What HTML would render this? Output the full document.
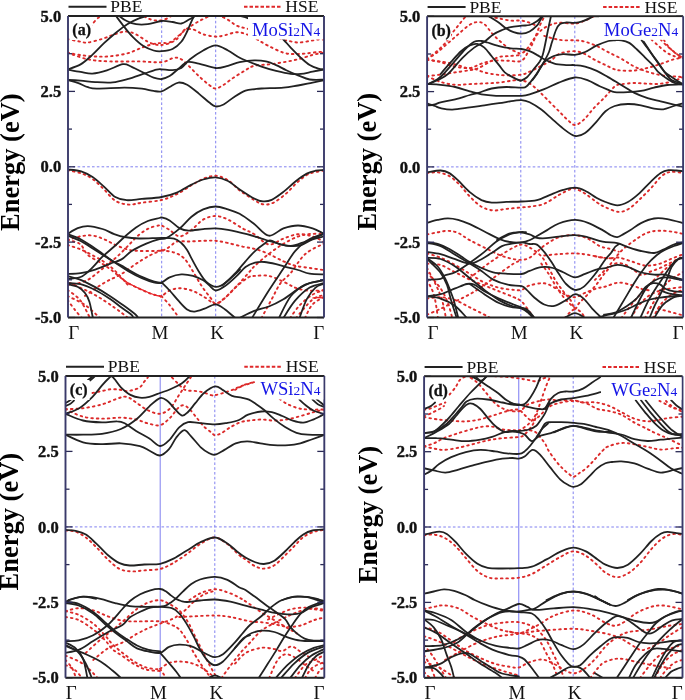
<!DOCTYPE html>
<html><head><meta charset="utf-8"><style>
html,body{margin:0;padding:0;background:#fff;}
body{width:685px;height:700px;overflow:hidden;}
svg{display:block;will-change:transform;}
text{font-family:"Liberation Serif",serif;}
.yl{font-size:16.5px;font-weight:bold;fill:#111;stroke:#111;stroke-width:0.4px;}
.xl{font-size:19px;fill:#111;}
.lg{font-size:17.5px;fill:#111;}
.pl{font-size:16px;font-weight:bold;fill:#111;stroke:#111;stroke-width:0.3px;}
.nm{font-size:18.6px;fill:#1414e6;}
.sm{font-size:13.5px;}
.yt{font-size:26.5px;font-weight:bold;fill:#000;}
</style></head><body>
<svg width="685" height="700" viewBox="0 0 685 700">
<clipPath id="clipa"><rect x="68" y="16" width="256" height="301.5"/></clipPath>
<g stroke="#8080f0" stroke-width="1" stroke-dasharray="2.6,2.2" fill="none">
<line x1="161.7" y1="16" x2="161.7" y2="317.5"/>
<line x1="215.7" y1="16" x2="215.7" y2="317.5"/>
<line x1="68" y1="166.8" x2="324" y2="166.8"/>
</g>
<g clip-path="url(#clipa)" fill="none" stroke-linecap="round" stroke-linejoin="round">
<path d="M67.5,52.7 C69.7,53.1 76.0,54.5 80.6,55.1 C85.2,55.7 90.1,56.3 95.0,56.5 C99.9,56.7 104.4,56.8 109.8,56.3 C115.2,55.8 121.9,54.8 127.3,53.4 C132.7,52.0 137.5,49.2 141.9,47.6 C146.3,46.0 150.3,44.7 153.6,43.9 C156.9,43.1 158.9,43.2 161.6,43.0 C164.3,42.8 166.8,43.7 169.6,42.5 C172.4,41.3 175.5,38.2 178.4,35.9 C181.3,33.6 183.7,31.0 187.1,28.6 C190.5,26.2 195.2,23.4 198.8,21.3 C202.5,19.2 206.6,17.6 209.0,16.2 C211.4,14.8 212.3,13.5 213.0,13.0" stroke="#dc2a2a" stroke-width="1.9" stroke-dasharray="1.6,3.9" stroke-linecap="round"/>
<path d="M67.5,39.0 C69.7,39.5 77.2,41.1 80.6,41.7 C84.0,42.3 84.2,43.0 87.9,42.5 C91.6,42.0 98.1,40.1 102.5,38.8 C106.9,37.4 110.3,35.6 114.2,34.4 C118.1,33.2 122.3,31.5 125.9,31.5 C129.5,31.5 132.3,32.7 136.0,34.4 C139.7,36.1 144.4,40.0 147.8,41.7 C151.2,43.4 154.2,44.2 156.5,44.7 C158.8,45.2 159.4,45.2 161.6,45.0 C163.8,44.8 167.0,44.2 169.6,43.2 C172.2,42.2 174.5,41.2 176.9,39.0 C179.3,36.8 182.0,31.8 184.2,30.1 C186.4,28.4 188.0,28.9 190.0,29.0 C192.0,29.1 193.8,29.6 196.0,30.5 C198.2,31.4 199.9,33.3 203.2,34.3 C206.5,35.3 212.0,36.5 215.6,36.6 C219.2,36.8 221.5,35.9 225.0,35.2 C228.5,34.5 233.0,32.3 236.7,32.2 C240.3,32.1 243.5,33.2 246.9,34.4 C250.3,35.6 253.5,37.5 257.1,39.5 C260.8,41.5 264.4,43.9 268.8,46.1 C273.2,48.3 279.0,51.4 283.4,52.7 C287.8,54.0 291.2,54.0 295.1,54.1 C299.0,54.2 302.9,53.8 306.8,53.4 C310.7,53.0 315.6,52.2 318.4,52.0 C321.2,51.8 322.6,52.0 323.5,52.0" stroke="#dc2a2a" stroke-width="1.9" stroke-dasharray="1.6,3.9" stroke-linecap="round"/>
<path d="M67.5,52.7 C70.9,53.8 80.9,57.8 87.9,59.3 C95.0,60.8 101.3,61.0 109.8,61.4 C118.3,61.8 130.4,61.3 139.0,61.4 C147.6,61.5 155.8,62.8 161.6,62.2 C167.4,61.6 170.7,58.3 174.0,57.8 C177.3,57.3 178.9,58.0 181.3,59.3 C183.7,60.6 185.7,63.0 188.6,65.8 C191.5,68.6 195.4,72.9 198.8,76.1 C202.2,79.3 206.2,82.7 209.0,84.8 C211.8,86.9 213.2,88.5 215.6,88.5 C218.0,88.5 220.6,86.6 223.6,84.8 C226.6,83.0 230.2,79.9 233.8,77.5 C237.5,75.1 242.1,72.2 245.5,70.2 C248.9,68.2 250.3,66.8 254.2,65.8 C258.1,64.8 263.9,65.0 268.8,64.4 C273.7,63.8 278.5,63.1 283.4,62.2 C288.3,61.4 293.1,60.5 298.0,59.3 C302.9,58.1 308.4,56.0 312.6,54.9 C316.9,53.8 321.7,53.1 323.5,52.7" stroke="#dc2a2a" stroke-width="1.9" stroke-dasharray="1.6,3.9" stroke-linecap="round"/>
<path d="M140.0,13.0 C141.3,13.9 145.1,17.1 147.8,18.4 C150.6,19.7 153.8,20.4 156.5,20.6 C159.2,20.8 161.4,20.5 163.8,19.8 C166.2,19.1 169.1,17.3 171.0,16.2 C172.9,15.1 174.3,13.5 175.0,13.0" stroke="#dc2a2a" stroke-width="1.9" stroke-dasharray="1.6,3.9" stroke-linecap="round"/>
<path d="M90.5,26.5 C90.8,26.1 91.3,25.4 92.3,24.2 C93.3,23.0 95.2,20.6 96.7,19.1 C98.2,17.7 100.0,16.5 101.0,15.5 C102.0,14.5 102.7,13.4 103.0,13.0" stroke="#dc2a2a" stroke-width="1.9" stroke-dasharray="1.6,3.9" stroke-linecap="round"/>
<path d="M213.0,13.0 C214.0,13.4 216.7,14.4 219.2,15.5 C221.7,16.6 225.1,18.1 228.0,19.8 C230.9,21.5 233.7,24.2 236.8,25.7 C240.0,27.2 243.0,27.6 246.9,28.6 C250.8,29.7 255.3,30.6 260.0,32.0 C264.7,33.4 270.6,35.6 275.0,37.0 C279.4,38.4 282.5,39.4 286.3,40.3 C290.1,41.2 294.1,42.4 298.0,42.5 C301.9,42.6 306.3,41.5 309.7,41.0 C313.1,40.5 316.1,39.8 318.4,39.5 C320.7,39.2 322.6,39.5 323.5,39.5" stroke="#dc2a2a" stroke-width="1.9" stroke-dasharray="1.6,3.9" stroke-linecap="round"/>
<path d="M67.5,170.4 C69.8,170.9 77.0,171.9 81.2,173.3 C85.4,174.7 88.8,176.3 92.6,179.0 C96.4,181.7 100.2,185.8 104.0,189.4 C107.8,193.0 111.2,198.3 115.3,200.8 C119.4,203.3 124.2,204.3 128.6,204.6 C133.0,204.9 136.4,203.5 141.9,202.7 C147.4,201.9 155.8,201.4 161.6,200.0 C167.4,198.6 171.9,196.5 176.9,194.1 C181.9,191.7 187.1,187.9 191.5,185.3 C195.9,182.8 199.2,180.4 203.2,178.8 C207.2,177.2 211.5,175.6 215.6,175.8 C219.7,176.0 224.0,177.8 228.0,180.2 C232.0,182.6 235.3,187.1 239.7,190.4 C244.1,193.7 250.3,197.7 254.2,200.0 C258.1,202.3 259.8,203.8 263.0,204.3 C266.2,204.8 269.3,204.6 273.2,202.8 C277.1,201.0 282.2,196.9 286.3,193.4 C290.4,189.9 294.1,185.0 298.0,181.7 C301.9,178.4 305.4,175.4 309.7,173.6 C313.9,171.8 321.2,171.2 323.5,170.7" stroke="#dc2a2a" stroke-width="1.9" stroke-dasharray="1.6,3.9" stroke-linecap="round"/>
<path d="M67.5,240.0 C69.7,239.4 76.5,237.1 80.6,236.3 C84.7,235.6 88.4,235.0 92.3,235.5 C96.2,236.0 100.1,237.6 104.0,239.2 C107.9,240.8 111.7,243.3 115.6,245.0 C119.5,246.7 123.4,248.4 127.3,249.4 C131.2,250.4 133.3,250.7 139.0,250.9 C144.7,251.1 156.5,251.2 161.6,250.5 C166.7,249.8 167.0,248.2 169.6,246.7 C172.2,245.2 173.7,242.4 176.9,241.5 C180.1,240.6 184.2,241.6 188.6,241.5 C193.0,241.4 198.7,240.9 203.2,240.8 C207.7,240.7 211.5,240.4 215.6,240.8 C219.7,241.2 223.5,242.0 228.0,243.0 C232.5,244.0 238.1,245.6 242.6,246.6 C247.1,247.6 250.6,247.8 255.0,249.0 C259.4,250.2 264.1,251.9 268.8,254.0 C273.5,256.1 279.0,259.4 283.4,261.3 C287.8,263.2 290.7,264.6 295.1,265.7 C299.5,266.8 305.0,267.3 309.7,268.0 C314.4,268.7 321.2,269.7 323.5,270.0" stroke="#dc2a2a" stroke-width="1.9" stroke-dasharray="1.6,3.9" stroke-linecap="round"/>
<path d="M67.5,240.0 C69.6,240.7 76.6,241.5 80.0,244.0 C83.4,246.5 84.2,251.7 87.9,255.0 C91.7,258.3 98.4,261.1 102.5,263.8 C106.6,266.5 109.5,268.7 112.7,271.1 C115.9,273.5 119.1,276.5 121.5,278.4 C123.9,280.3 124.4,281.0 127.3,282.7 C130.2,284.4 135.1,286.8 139.0,288.6 C142.9,290.4 147.3,292.5 150.7,293.7 C154.1,294.9 157.6,295.5 159.4,295.9 C161.2,296.3 159.9,297.2 161.6,296.3 C163.3,295.4 166.6,291.8 169.6,290.5 C172.6,289.2 176.2,288.3 179.8,288.3 C183.5,288.3 187.6,289.2 191.5,290.5 C195.4,291.8 199.2,294.1 203.2,296.3 C207.2,298.5 211.9,303.4 215.6,303.6 C219.2,303.9 221.6,300.7 225.1,297.8 C228.6,294.9 232.9,289.5 236.8,286.1 C240.7,282.7 245.4,279.0 248.4,277.3 C251.4,275.6 251.6,276.1 255.0,275.9 C258.4,275.7 264.1,274.9 268.8,275.9 C273.5,276.9 279.0,279.8 283.4,281.7 C287.8,283.6 291.2,286.1 295.1,287.6 C299.0,289.1 302.1,290.0 306.8,290.5 C311.5,291.0 320.7,290.5 323.5,290.5" stroke="#dc2a2a" stroke-width="1.9" stroke-dasharray="1.6,3.9" stroke-linecap="round"/>
<path d="M67.5,245.0 C69.7,245.7 76.0,247.5 80.6,249.4 C85.2,251.3 91.3,254.6 95.2,256.7 C99.1,258.8 101.2,259.9 104.0,261.8 C106.8,263.7 109.3,265.6 112.0,268.0 C114.7,270.4 117.3,273.2 120.0,276.0 C122.7,278.8 126.7,283.5 128.0,285.0" stroke="#dc2a2a" stroke-width="1.9" stroke-dasharray="1.6,3.9" stroke-linecap="round"/>
<path d="M67.5,285.0 C68.7,284.9 71.4,285.1 74.8,284.2 C78.2,283.3 83.8,282.0 87.9,279.8 C92.0,277.6 96.2,273.7 99.6,271.1 C102.9,268.5 105.1,266.4 108.0,264.0 C110.9,261.6 113.6,259.9 117.1,256.7 C120.6,253.5 125.2,248.7 128.8,245.0 C132.5,241.3 135.6,237.6 139.0,234.8 C142.4,232.0 145.8,229.8 149.2,228.2 C152.6,226.6 157.3,225.8 159.4,225.3 C161.5,224.9 159.9,224.7 161.6,225.5 C163.3,226.3 166.6,228.1 169.6,229.9 C172.6,231.7 176.2,236.4 179.8,236.4 C183.5,236.4 187.6,232.7 191.5,229.9 C195.4,227.1 199.2,221.9 203.2,219.6 C207.2,217.3 211.5,216.0 215.6,216.0 C219.7,216.0 223.5,217.5 228.0,219.6 C232.5,221.7 238.2,226.0 242.6,228.4 C247.0,230.8 249.8,231.5 254.2,234.2 C258.6,236.9 263.9,243.8 268.8,244.5 C273.7,245.2 278.5,240.3 283.4,238.6 C288.3,236.9 293.1,234.6 298.0,234.2 C302.9,233.8 308.4,235.2 312.6,236.4 C316.9,237.6 321.7,240.7 323.5,241.5" stroke="#dc2a2a" stroke-width="1.9" stroke-dasharray="1.6,3.9" stroke-linecap="round"/>
<path d="M85.0,295.9 C86.7,294.7 91.5,291.0 95.2,288.6 C98.9,286.2 102.5,283.7 106.9,281.3 C111.3,278.9 116.7,276.9 121.5,274.0 C126.3,271.1 131.1,267.0 136.0,263.8 C140.9,260.6 146.4,257.2 150.7,255.0 C155.0,252.8 159.8,251.1 161.6,250.3" stroke="#dc2a2a" stroke-width="1.9" stroke-dasharray="1.6,3.9" stroke-linecap="round"/>
<path d="M161.6,250.3 C163.7,250.7 170.2,251.2 174.0,252.5 C177.8,253.8 181.0,255.2 184.2,258.4 C187.4,261.6 190.1,266.9 193.0,271.5 C195.9,276.1 198.8,281.7 201.7,286.1 C204.6,290.5 208.2,294.9 210.5,297.8 C212.8,300.7 213.2,303.6 215.6,303.6 C218.0,303.6 221.6,300.7 225.1,297.8 C228.6,294.9 232.9,290.2 236.8,286.1 C240.7,282.0 245.4,276.4 248.4,273.0 C251.4,269.6 251.6,268.9 255.0,265.7 C258.4,262.5 264.1,257.6 268.8,254.0 C273.5,250.3 278.5,246.7 283.4,243.8 C288.3,240.9 293.6,238.1 298.0,236.5 C302.4,234.9 305.8,234.4 310.0,234.0 C314.2,233.6 321.2,234.0 323.5,234.0" stroke="#dc2a2a" stroke-width="1.9" stroke-dasharray="1.6,3.9" stroke-linecap="round"/>
<path d="M161.6,296.3 C162.9,297.8 166.8,301.7 169.6,305.1 C172.4,308.5 176.8,314.7 178.4,316.8 C180.0,318.9 178.9,317.8 179.0,318.0" stroke="#dc2a2a" stroke-width="1.9" stroke-dasharray="1.6,3.9" stroke-linecap="round"/>
<path d="M261.5,318.0 C263.2,314.9 268.5,305.0 271.7,299.2 C274.9,293.4 277.3,287.6 280.5,283.2 C283.7,278.8 286.6,277.9 290.7,273.0 C294.8,268.1 299.8,258.9 305.3,254.0 C310.8,249.1 320.5,245.5 323.5,243.8" stroke="#dc2a2a" stroke-width="1.9" stroke-dasharray="1.6,3.9" stroke-linecap="round"/>
<path d="M67.5,290.0 C69.6,291.7 76.2,295.3 80.0,300.0 C83.8,304.7 88.3,315.0 90.0,318.0" stroke="#dc2a2a" stroke-width="1.9" stroke-dasharray="1.6,3.9" stroke-linecap="round"/>
<path d="M67.5,296.0 C70.4,297.5 79.6,301.3 85.0,305.0 C90.4,308.7 97.5,315.8 100.0,318.0" stroke="#dc2a2a" stroke-width="1.9" stroke-dasharray="1.6,3.9" stroke-linecap="round"/>
<path d="M67.5,300.0 C68.8,301.7 72.6,307.0 75.0,310.0 C77.4,313.0 80.8,316.7 82.0,318.0" stroke="#dc2a2a" stroke-width="1.9" stroke-dasharray="1.6,3.9" stroke-linecap="round"/>
<path d="M70.0,283.0 C74.2,285.0 87.5,290.8 95.0,295.0 C102.5,299.2 109.5,304.2 115.0,308.0 C120.5,311.8 125.8,316.3 128.0,318.0" stroke="#dc2a2a" stroke-width="1.9" stroke-dasharray="1.6,3.9" stroke-linecap="round"/>
<path d="M290.0,318.0 C291.7,315.8 296.3,308.8 300.0,305.0 C303.7,301.2 308.1,297.5 312.0,295.0 C315.9,292.5 321.6,290.8 323.5,290.0" stroke="#dc2a2a" stroke-width="1.9" stroke-dasharray="1.6,3.9" stroke-linecap="round"/>
<path d="M305.0,318.0 C306.2,315.8 308.9,308.5 312.0,305.0 C315.1,301.5 321.6,298.3 323.5,297.0" stroke="#dc2a2a" stroke-width="1.9" stroke-dasharray="1.6,3.9" stroke-linecap="round"/>
<path d="M296.0,318.0 C298.7,315.0 307.4,303.8 312.0,300.0 C316.6,296.2 321.6,295.8 323.5,295.0" stroke="#dc2a2a" stroke-width="1.9" stroke-dasharray="1.6,3.9" stroke-linecap="round"/>
<path d="M121.5,278.4 C122.5,279.1 125.4,281.3 127.3,282.5 C129.2,283.7 131.1,284.5 133.0,285.5 C134.9,286.5 137.0,287.5 139.0,288.4 C141.0,289.3 143.1,290.1 145.0,291.0 C146.9,291.9 149.0,292.8 150.7,293.5 C152.4,294.2 153.6,294.6 155.0,295.0 C156.4,295.4 158.3,295.8 159.4,296.0 C160.5,296.2 161.2,296.0 161.6,296.0" stroke="#e8262a" stroke-width="1.3"/>
<path d="M313.0,298.0 C313.8,297.9 316.3,297.5 318.0,297.5 C319.7,297.5 322.2,297.9 323.0,298.0" stroke="#e8262a" stroke-width="1.3"/>
<path d="M67.5,69.5 C69.7,68.7 76.5,66.8 80.6,64.4 C84.7,62.0 88.4,58.4 92.3,54.9 C96.2,51.4 100.1,46.9 104.0,43.2 C107.9,39.6 111.7,36.2 115.6,33.0 C119.5,29.8 123.4,26.6 127.3,24.2 C131.2,21.8 135.6,19.8 139.0,18.4 C142.4,16.9 145.6,16.4 147.8,15.5 C150.0,14.6 151.3,13.4 152.0,13.0" stroke="#222" stroke-width="1.8"/>
<path d="M113.0,12.0 C113.4,12.6 113.7,13.0 115.6,15.5 C117.5,18.0 121.5,23.5 124.4,27.1 C127.3,30.8 130.0,34.2 133.2,37.4 C136.4,40.6 140.0,43.9 143.4,46.1 C146.8,48.3 150.6,49.6 153.6,50.5 C156.6,51.4 158.4,51.5 161.6,51.2 C164.8,51.0 169.2,50.6 172.5,49.0 C175.8,47.4 178.9,44.6 181.3,41.7 C183.7,38.8 185.4,34.9 187.1,31.5 C188.8,28.1 190.3,24.0 191.5,21.3 C192.7,18.6 193.7,17.1 194.4,15.5 C195.2,13.9 195.7,12.6 196.0,12.0" stroke="#222" stroke-width="1.8"/>
<path d="M116.0,12.0 C116.4,12.6 116.7,13.9 118.6,15.5 C120.5,17.1 124.4,19.9 127.3,21.3 C130.2,22.8 132.6,23.7 136.0,24.2 C139.4,24.7 143.5,24.7 147.8,24.2 C152.1,23.7 157.5,21.4 161.6,21.0 C165.7,20.6 169.2,21.6 172.5,22.0 C175.8,22.4 178.6,23.9 181.3,23.5 C184.0,23.1 186.4,21.0 188.6,19.8 C190.8,18.6 193.0,17.3 194.4,16.2 C195.8,15.1 196.6,13.5 197.0,13.0" stroke="#222" stroke-width="1.8"/>
<path d="M67.5,69.5 C69.7,69.9 76.5,71.2 80.6,71.9 C84.7,72.6 87.9,73.8 92.3,73.6 C96.7,73.3 101.8,72.0 106.9,70.4 C112.0,68.8 118.8,64.8 122.9,64.2 C127.0,63.6 128.0,65.3 131.7,66.8 C135.3,68.3 141.2,71.6 144.8,73.4 C148.5,75.2 150.8,76.8 153.6,77.7 C156.4,78.6 158.9,79.3 161.6,79.0 C164.3,78.7 166.8,77.8 169.6,76.1 C172.4,74.4 175.5,71.1 178.4,68.8 C181.3,66.5 183.7,62.9 187.1,62.0 C190.5,61.1 194.1,62.6 198.8,63.6 C203.6,64.6 210.7,67.6 215.6,68.0 C220.5,68.4 224.0,66.8 228.0,65.8 C232.0,64.8 235.2,63.1 239.6,62.2 C244.0,61.3 249.8,60.5 254.2,60.4 C258.6,60.3 262.2,60.6 265.9,61.4 C269.5,62.2 272.7,63.6 276.1,65.1 C279.5,66.6 282.7,68.5 286.3,70.2 C289.9,71.9 294.1,73.8 298.0,75.3 C301.9,76.8 305.4,78.8 309.7,79.5 C313.9,80.2 321.2,79.7 323.5,79.7" stroke="#222" stroke-width="1.8"/>
<path d="M67.5,80.0 C69.7,80.1 76.0,80.4 80.6,80.7 C85.2,81.0 89.8,81.8 95.2,82.1 C100.6,82.4 107.4,82.9 112.7,82.4 C118.0,81.9 121.9,80.7 127.3,79.2 C132.7,77.7 139.9,75.0 144.8,73.4 C149.7,71.8 153.7,70.4 156.5,69.7 C159.3,69.0 158.9,69.2 161.6,69.3 C164.3,69.4 169.2,70.4 172.5,70.2 C175.8,70.0 178.4,69.8 181.3,68.0 C184.2,66.2 186.3,62.2 190.0,59.3 C193.7,56.4 198.9,52.8 203.2,50.5 C207.5,48.2 211.5,45.4 215.6,45.4 C219.7,45.4 224.0,48.4 228.0,50.5 C232.0,52.6 236.3,56.0 239.7,57.8 C243.1,59.6 244.8,60.0 248.4,61.5 C252.0,63.0 256.9,65.0 261.5,66.6 C266.1,68.2 271.2,69.7 276.1,70.9 C281.0,72.1 286.6,73.4 290.7,73.9 C294.8,74.4 297.2,74.3 300.9,73.9 C304.5,73.5 308.8,72.4 312.6,71.7 C316.4,71.0 321.7,69.9 323.5,69.5" stroke="#222" stroke-width="1.8"/>
<path d="M67.5,80.0 C69.2,80.5 74.3,81.6 77.7,82.8 C81.1,84.0 84.7,86.2 87.9,87.2 C91.1,88.2 90.6,88.6 96.7,88.7 C102.8,88.8 116.9,87.7 124.4,87.7 C131.9,87.7 137.0,88.2 141.9,88.7 C146.8,89.2 150.3,90.5 153.6,90.9 C156.9,91.4 158.9,92.1 161.6,91.4 C164.3,90.8 166.8,88.5 169.6,87.0 C172.4,85.5 175.5,83.0 178.4,82.6 C181.3,82.2 183.7,83.0 187.1,84.8 C190.5,86.6 195.2,90.7 198.8,93.6 C202.5,96.5 206.2,100.2 209.0,102.3 C211.8,104.4 213.2,106.0 215.6,106.4 C218.0,106.8 220.6,106.0 223.6,104.5 C226.6,103.0 230.2,99.5 233.8,97.2 C237.5,94.9 242.0,92.0 245.5,90.7 C249.0,89.4 252.3,89.6 255.0,89.2 C257.7,88.8 256.8,88.8 261.5,88.5 C266.2,88.2 277.3,88.2 283.4,87.7 C289.5,87.2 293.1,86.3 298.0,85.5 C302.9,84.7 308.4,83.4 312.6,82.6 C316.9,81.8 321.7,80.8 323.5,80.4" stroke="#222" stroke-width="1.8"/>
<path d="M228.0,13.0 C229.7,13.4 234.6,14.6 238.0,15.5 C241.4,16.4 244.4,16.8 248.4,18.4 C252.4,20.0 257.6,22.7 262.0,25.0 C266.4,27.3 271.4,29.6 275.0,32.0 C278.6,34.4 280.8,36.9 283.4,39.5 C286.0,42.1 287.8,44.6 290.7,47.6 C293.6,50.6 297.7,54.9 300.9,57.8 C304.1,60.7 306.8,63.3 309.7,65.1 C312.6,66.9 316.1,68.0 318.4,68.7 C320.7,69.4 322.6,69.4 323.5,69.5" stroke="#222" stroke-width="1.8"/>
<path d="M67.5,169.5 C69.8,169.8 77.0,170.1 81.2,171.4 C85.4,172.7 88.8,174.6 92.6,177.1 C96.4,179.6 100.2,183.3 104.0,186.6 C107.8,189.9 111.5,194.7 115.3,197.0 C119.1,199.3 122.3,199.9 126.7,200.2 C131.1,200.5 136.1,199.4 141.9,198.9 C147.7,198.4 155.8,198.1 161.6,197.0 C167.4,195.9 171.9,194.7 176.9,192.6 C181.9,190.5 187.1,186.8 191.5,184.6 C195.9,182.4 199.2,180.7 203.2,179.5 C207.2,178.3 211.5,177.1 215.6,177.3 C219.7,177.6 224.0,179.0 228.0,181.0 C232.0,183.0 235.3,186.5 239.7,189.4 C244.1,192.3 250.3,196.5 254.2,198.5 C258.1,200.5 260.1,201.2 263.0,201.4 C265.9,201.6 268.3,201.5 271.7,199.9 C275.1,198.3 279.5,194.9 283.4,191.9 C287.3,188.9 291.2,184.8 295.1,181.7 C299.0,178.6 303.4,175.4 306.8,173.6 C310.2,171.8 312.7,171.3 315.5,170.7 C318.3,170.1 322.2,170.1 323.5,170.0" stroke="#222" stroke-width="1.8"/>
<path d="M67.5,234.0 C69.2,233.0 74.3,229.5 77.7,228.2 C81.1,226.9 83.8,226.0 87.9,226.1 C92.0,226.2 98.1,227.7 102.5,229.0 C106.9,230.3 110.5,232.8 114.2,234.1 C117.9,235.4 120.3,236.3 124.4,237.0 C128.5,237.7 132.8,238.3 139.0,238.5 C145.2,238.7 155.8,237.9 161.6,237.9 C167.4,237.9 170.7,237.8 174.0,238.6 C177.3,239.4 179.1,241.1 181.3,243.0 C183.5,244.9 185.4,247.4 187.1,250.0 C188.8,252.6 189.6,254.8 191.5,258.4 C193.4,262.0 196.4,267.6 198.8,271.5 C201.2,275.4 203.3,279.1 206.1,281.7 C208.9,284.2 212.4,286.6 215.6,286.8 C218.8,287.1 221.6,285.8 225.1,283.2 C228.6,280.6 233.4,275.1 236.8,271.5 C240.2,267.9 242.5,264.7 245.5,261.3 C248.5,257.9 251.8,254.0 255.0,251.1 C258.1,248.2 261.9,245.6 264.4,243.8 C266.9,242.0 267.3,240.4 270.0,240.5 C272.7,240.6 277.1,243.6 280.5,244.5 C283.9,245.4 287.3,245.9 290.7,246.0 C294.1,246.1 297.2,246.3 300.9,245.2 C304.5,244.1 308.8,240.8 312.6,239.4 C316.4,238.0 321.7,237.0 323.5,236.5" stroke="#222" stroke-width="1.8"/>
<path d="M67.5,234.0 C69.7,234.9 76.5,237.1 80.6,239.2 C84.7,241.3 88.6,244.1 92.3,246.5 C96.0,248.9 99.1,251.4 102.5,253.8 C105.9,256.2 109.5,259.2 112.7,261.1 C115.9,263.1 118.8,264.0 121.5,265.5 C124.2,267.0 125.4,268.1 128.8,270.0 C132.2,271.9 137.8,275.0 141.9,276.9 C146.0,278.8 150.3,280.4 153.6,281.3 C156.9,282.2 158.9,283.2 161.6,282.5 C164.3,281.8 166.3,278.7 169.6,277.3 C172.9,275.9 177.4,274.6 181.3,274.4 C185.2,274.2 189.3,274.9 193.0,275.9 C196.7,276.9 200.5,278.8 203.2,280.3 C205.9,281.8 206.9,283.3 209.0,285.0 C211.1,286.7 212.9,290.3 215.6,290.5 C218.3,290.7 221.6,288.5 225.1,286.1 C228.6,283.7 233.4,279.1 236.8,275.9 C240.2,272.7 242.5,269.3 245.5,267.1 C248.5,264.9 251.8,263.6 255.0,262.7 C258.1,261.8 260.9,261.8 264.4,262.0 C267.9,262.2 272.5,263.3 276.1,264.2 C279.8,265.1 282.7,266.1 286.3,267.1 C289.9,268.1 294.1,268.9 298.0,270.0 C301.9,271.1 305.4,273.0 309.7,273.7 C313.9,274.4 321.2,274.3 323.5,274.4" stroke="#222" stroke-width="1.8"/>
<path d="M67.5,235.5 C69.7,236.4 76.5,238.9 80.6,241.0 C84.7,243.1 87.9,245.6 92.3,248.3 C96.7,251.1 102.8,254.9 106.9,257.5 C111.0,260.1 113.4,261.7 117.1,264.0 C120.8,266.3 124.7,269.1 128.8,271.5 C132.9,273.9 137.8,276.5 141.9,278.3 C146.0,280.1 150.3,281.7 153.6,282.5 C156.9,283.3 160.3,282.9 161.6,283.0" stroke="#222" stroke-width="1.8"/>
<path d="M222.0,285.5 C223.7,284.1 229.0,279.7 232.0,277.0 C235.0,274.3 238.7,270.8 240.0,269.5" stroke="#222" stroke-width="1.8"/>
<path d="M67.5,279.0 C69.7,278.7 76.8,278.5 80.6,277.0 C84.3,275.5 86.3,273.4 90.0,270.0 C93.7,266.6 98.5,260.6 102.5,256.7 C106.5,252.8 110.5,249.8 114.2,246.5 C117.9,243.2 120.8,240.2 124.4,237.0 C128.0,233.8 132.1,230.2 136.0,227.5 C139.9,224.8 143.9,222.6 147.8,221.0 C151.7,219.4 157.1,218.6 159.4,218.0 C161.7,217.4 159.9,217.0 161.6,217.4 C163.3,217.8 166.6,218.6 169.6,220.4 C172.6,222.2 176.6,226.7 179.8,228.4 C183.0,230.1 184.7,230.5 188.6,230.6 C192.5,230.7 198.7,229.5 203.2,229.1 C207.7,228.7 211.5,228.3 215.6,228.4 C219.7,228.5 222.8,228.9 228.0,229.9 C233.2,230.9 241.3,232.8 246.9,234.2 C252.5,235.6 256.6,237.1 261.5,238.6 C266.4,240.1 271.2,241.8 276.1,243.0 C281.0,244.2 285.8,246.2 290.7,245.9 C295.6,245.7 299.8,243.4 305.3,241.5 C310.8,239.6 320.5,235.4 323.5,234.2" stroke="#222" stroke-width="1.8"/>
<path d="M67.5,274.0 C69.7,273.9 76.0,273.9 80.6,273.2 C85.2,272.5 90.3,271.2 95.2,269.6 C100.1,268.0 105.4,265.5 109.8,263.8 C114.2,262.1 117.8,261.5 121.5,259.4 C125.2,257.2 127.6,253.5 131.7,250.9 C135.8,248.3 141.7,245.6 146.3,243.6 C150.9,241.6 156.0,240.1 159.4,239.2 C162.8,238.2 163.3,239.7 166.7,237.9 C170.1,236.1 175.7,231.9 179.8,228.4 C183.9,224.9 187.6,219.9 191.5,216.7 C195.4,213.5 199.2,211.1 203.2,209.4 C207.2,207.7 211.5,206.5 215.6,206.5 C219.7,206.5 224.0,208.2 228.0,209.4 C232.0,210.6 235.2,211.4 239.6,213.8 C244.0,216.2 249.3,220.3 254.2,224.0 C259.1,227.7 263.9,235.0 268.8,235.7 C273.7,236.4 278.5,230.1 283.4,228.4 C288.3,226.7 293.1,225.5 298.0,225.5 C302.9,225.5 308.4,227.1 312.6,228.4 C316.9,229.7 321.7,232.7 323.5,233.5" stroke="#222" stroke-width="1.8"/>
<path d="M67.5,276.0 C69.7,276.6 76.0,277.9 80.6,279.8 C85.2,281.7 90.3,284.4 95.2,287.1 C100.1,289.8 104.9,292.7 109.8,295.9 C114.7,299.1 120.0,302.9 124.4,306.1 C128.8,309.3 133.7,313.0 136.0,315.0 C138.3,317.0 137.7,317.5 138.0,318.0" stroke="#222" stroke-width="1.8"/>
<path d="M67.5,284.0 C69.2,284.5 75.1,285.5 78.0,287.0 C80.9,288.5 83.1,290.6 85.0,293.0 C86.9,295.4 88.2,298.0 89.4,301.7 C90.6,305.4 91.7,312.3 92.3,315.0 C92.9,317.7 92.9,317.5 93.0,318.0" stroke="#222" stroke-width="1.8"/>
<path d="M67.5,283.0 C69.7,283.2 76.0,283.0 80.6,284.2 C85.2,285.4 90.3,287.6 95.2,290.0 C100.1,292.4 105.4,295.9 109.8,298.8 C114.2,301.7 117.8,304.9 121.5,307.6 C125.2,310.3 129.8,313.3 131.7,315.0 C133.6,316.7 132.8,317.5 133.0,318.0" stroke="#222" stroke-width="1.8"/>
<path d="M161.6,282.5 C162.9,283.8 166.8,287.5 169.6,290.5 C172.4,293.5 175.5,297.5 178.4,300.7 C181.3,303.9 184.4,307.7 187.1,309.5 C189.8,311.3 191.5,311.7 194.4,311.6 C197.3,311.5 201.1,309.9 204.6,308.7 C208.1,307.5 212.2,304.2 215.6,304.3 C219.0,304.4 222.1,307.4 225.1,309.5 C228.1,311.6 232.2,315.4 233.8,316.8 C235.5,318.2 234.8,317.8 235.0,318.0" stroke="#222" stroke-width="1.8"/>
<path d="M239.6,318.0 C242.0,316.8 249.3,312.8 254.2,310.9 C259.1,309.0 263.9,308.4 268.8,306.5 C273.7,304.6 278.5,302.1 283.4,299.2 C288.3,296.3 293.6,291.7 298.0,289.0 C302.4,286.3 305.4,284.6 309.7,283.2 C313.9,281.8 321.2,280.8 323.5,280.3" stroke="#222" stroke-width="1.8"/>
<path d="M252.0,318.0 C254.8,313.4 263.6,298.7 268.8,290.5 C274.0,282.3 279.0,275.2 283.4,268.6 C287.8,262.0 291.2,255.7 295.1,251.1 C299.0,246.5 303.4,243.2 306.8,240.8 C310.2,238.4 312.7,237.6 315.5,236.5 C318.3,235.4 322.2,234.4 323.5,234.0" stroke="#222" stroke-width="1.8"/>
<path d="M279.0,318.0 C280.9,314.4 286.3,301.9 290.7,296.3 C295.1,290.7 299.8,287.3 305.3,284.6 C310.8,281.9 320.5,280.8 323.5,280.0" stroke="#222" stroke-width="1.8"/>
<path d="M283.4,318.0 C285.3,315.1 290.7,305.8 295.1,300.7 C299.5,295.6 305.0,290.5 309.7,287.6 C314.4,284.7 321.2,283.9 323.5,283.2" stroke="#222" stroke-width="1.8"/>
<path d="M299.5,318.0 C300.7,314.9 304.1,304.3 306.8,299.2 C309.5,294.1 312.7,290.1 315.5,287.6 C318.3,285.1 322.2,284.6 323.5,284.0" stroke="#222" stroke-width="1.8"/>
</g>
<g stroke="#2a2a55" stroke-width="1.3"><line x1="68" y1="16.0" x2="75" y2="16.0"/><line x1="324" y1="16.0" x2="317" y2="16.0"/><line x1="68" y1="91.4" x2="75" y2="91.4"/><line x1="324" y1="91.4" x2="317" y2="91.4"/><line x1="68" y1="166.8" x2="75" y2="166.8"/><line x1="324" y1="166.8" x2="317" y2="166.8"/><line x1="68" y1="242.1" x2="75" y2="242.1"/><line x1="324" y1="242.1" x2="317" y2="242.1"/><line x1="68" y1="317.5" x2="75" y2="317.5"/><line x1="324" y1="317.5" x2="317" y2="317.5"/><line x1="68" y1="53.7" x2="72" y2="53.7"/><line x1="324" y1="53.7" x2="320" y2="53.7"/><line x1="68" y1="129.1" x2="72" y2="129.1"/><line x1="324" y1="129.1" x2="320" y2="129.1"/><line x1="68" y1="204.4" x2="72" y2="204.4"/><line x1="324" y1="204.4" x2="320" y2="204.4"/><line x1="68" y1="279.8" x2="72" y2="279.8"/><line x1="324" y1="279.8" x2="320" y2="279.8"/></g>
<line x1="68" y1="16" x2="324" y2="16" stroke="#222" stroke-width="1.9"/>
<line x1="68" y1="317.5" x2="324" y2="317.5" stroke="#222" stroke-width="1.9"/>
<line x1="68" y1="16" x2="68" y2="317.5" stroke="#3a3a6a" stroke-width="1.9"/>
<line x1="324" y1="16" x2="324" y2="317.5" stroke="#3a3a6a" stroke-width="1.9"/>
<text x="61.2" y="21.6" text-anchor="end" class="yl">5.0</text>
<text x="61.2" y="97.0" text-anchor="end" class="yl">2.5</text>
<text x="61.2" y="172.3" text-anchor="end" class="yl">0.0</text>
<text x="61.2" y="247.7" text-anchor="end" class="yl">-2.5</text>
<text x="61.2" y="323.1" text-anchor="end" class="yl">-5.0</text>
<text x="68.3" y="339.0" text-anchor="start" class="xl">Γ</text>
<text x="160.0" y="339.0" text-anchor="middle" class="xl">M</text>
<text x="217.2" y="339.0" text-anchor="middle" class="xl">K</text>
<text x="324.3" y="339.0" text-anchor="end" class="xl">Γ</text>
<line x1="68.5" y1="6.699999999999999" x2="106.5" y2="6.699999999999999" stroke="#222" stroke-width="1.9"/>
<text x="110.3" y="12.2" class="lg">PBE</text>
<line x1="244" y1="6.699999999999999" x2="282" y2="6.699999999999999" stroke="#e0282a" stroke-width="1.9" stroke-dasharray="3.5,2"/>
<text x="318.4" y="12.2" text-anchor="end" class="lg">HSE</text>
<rect x="248" y="17" width="75" height="22.5" fill="#fff"/>
<rect x="69.5" y="20" width="22.5" height="20" fill="#fff"/>
<text x="72.3" y="35.3" class="pl">(a)</text>
<text x="320.2" y="36.199999999999996" text-anchor="end" class="nm">MoSi<tspan class="sm">2</tspan>N<tspan class="sm">4</tspan></text>
<clipPath id="clipb"><rect x="427.1" y="16.3" width="256.0" height="301.2"/></clipPath>
<g stroke="#8080f0" stroke-width="1" stroke-dasharray="2.6,2.2" fill="none">
<line x1="520.8" y1="16.3" x2="520.8" y2="317.5"/>
<line x1="574.8" y1="16.3" x2="574.8" y2="317.5"/>
<line x1="427.1" y1="166.9" x2="683.1" y2="166.9"/>
</g>
<g clip-path="url(#clipb)" fill="none" stroke-linecap="round" stroke-linejoin="round">
<path d="M427.0,59.3 C428.8,58.1 434.2,54.7 437.7,52.0 C441.2,49.3 444.5,46.1 447.9,43.2 C451.3,40.3 454.7,37.3 458.1,34.4 C461.5,31.5 465.1,27.8 468.3,25.7 C471.5,23.6 474.4,22.2 477.1,22.0 C479.8,21.8 482.0,22.4 484.4,24.2 C486.8,26.0 489.3,30.3 491.7,33.0 C494.1,35.7 496.3,37.9 499.0,40.3 C501.7,42.7 504.9,45.6 507.8,47.6 C510.7,49.6 514.2,51.0 516.5,52.0 C518.8,53.0 519.7,54.1 521.6,53.4 C523.5,52.7 526.0,50.0 528.1,47.6 C530.2,45.2 531.8,41.7 534.0,38.8 C536.2,35.9 538.6,32.4 541.3,30.1 C544.0,27.8 547.1,26.2 550.0,25.0 C552.9,23.8 555.4,23.1 558.8,22.8 C562.2,22.6 567.6,23.4 570.5,23.5 C573.4,23.6 573.9,24.0 576.3,23.5 C578.7,23.0 582.2,21.8 585.1,20.6 C588.0,19.4 591.8,17.3 593.8,16.2 C595.8,15.1 596.5,14.4 597.0,14.0" stroke="#dc2a2a" stroke-width="1.9" stroke-dasharray="1.6,3.9" stroke-linecap="round"/>
<path d="M427.0,59.3 C428.8,57.8 434.5,53.4 437.7,50.5 C440.9,47.6 444.0,44.6 446.4,41.7 C448.8,38.8 450.4,35.7 452.3,33.0 C454.2,30.3 456.2,28.1 458.1,25.7 C460.1,23.3 462.5,20.1 464.0,18.4 C465.5,16.7 466.2,16.2 466.9,15.5 C467.6,14.8 467.8,14.2 468.0,14.0" stroke="#dc2a2a" stroke-width="1.9" stroke-dasharray="1.6,3.9" stroke-linecap="round"/>
<path d="M427.0,59.3 C429.3,59.8 435.9,61.0 440.6,62.2 C445.3,63.4 450.3,65.6 455.2,66.6 C460.1,67.6 465.4,68.5 469.8,68.0 C474.2,67.5 477.6,64.8 481.5,63.6 C485.4,62.4 488.8,61.2 493.2,60.7 C497.6,60.2 503.1,60.7 507.8,60.7 C512.5,60.7 518.0,62.7 521.6,60.7 C525.2,58.8 527.5,52.4 529.6,49.0 C531.7,45.6 532.3,44.2 534.0,40.3 C535.7,36.4 538.1,29.6 539.8,25.7 C541.5,21.8 543.2,18.8 544.2,16.9 C545.2,14.9 545.7,14.5 546.0,14.0" stroke="#dc2a2a" stroke-width="1.9" stroke-dasharray="1.6,3.9" stroke-linecap="round"/>
<path d="M427.0,60.0 C429.3,60.2 435.9,60.8 440.6,61.5 C445.3,62.2 450.8,63.3 455.2,64.4 C459.6,65.5 463.7,67.3 466.9,68.0 C470.1,68.7 471.3,68.1 474.2,68.8 C477.1,69.5 480.8,71.4 484.4,72.4 C488.0,73.4 492.2,74.1 496.1,74.6 C500.0,75.1 503.6,75.3 507.8,75.3 C512.0,75.3 518.0,75.2 521.6,74.6 C525.2,74.0 526.3,73.2 529.6,71.7 C532.9,70.2 537.7,67.7 541.3,65.8 C544.9,63.9 548.1,62.5 551.0,60.5 C553.9,58.5 556.3,55.5 558.8,54.1 C561.3,52.7 563.3,52.5 566.0,52.0 C568.7,51.5 572.0,51.0 574.9,51.2 C577.8,51.4 580.5,52.0 583.6,53.4 C586.8,54.8 590.1,57.3 593.8,59.3 C597.4,61.2 602.0,63.4 605.5,65.1 C609.0,66.8 612.4,68.6 615.0,69.5 C617.6,70.4 618.1,70.3 621.3,70.5 C624.5,70.7 630.0,70.9 634.4,70.5 C638.8,70.1 643.2,69.0 647.6,67.9 C652.0,66.8 656.3,65.3 660.7,63.9 C665.1,62.5 670.1,60.3 673.8,59.3 C677.5,58.3 681.5,58.2 683.0,58.0" stroke="#dc2a2a" stroke-width="1.9" stroke-dasharray="1.6,3.9" stroke-linecap="round"/>
<path d="M427.0,76.1 C429.3,75.8 435.9,75.2 440.6,74.6 C445.3,74.0 450.3,73.1 455.2,72.4 C460.1,71.7 465.9,70.9 469.8,70.2 C473.7,69.5 475.2,69.5 478.6,68.0 C482.0,66.5 486.8,63.3 490.2,61.5 C493.6,59.7 495.7,57.9 499.0,57.0 C502.3,56.1 506.2,56.3 510.0,56.0 C513.8,55.7 519.7,55.2 521.6,55.0" stroke="#dc2a2a" stroke-width="1.9" stroke-dasharray="1.6,3.9" stroke-linecap="round"/>
<path d="M427.0,76.1 C429.3,77.1 435.9,80.5 440.6,81.9 C445.3,83.4 450.3,84.4 455.2,84.8 C460.1,85.2 464.9,84.3 469.8,84.1 C474.7,83.9 479.5,83.7 484.4,83.4 C489.3,83.2 494.1,83.1 499.0,82.6 C503.9,82.1 509.8,80.8 513.6,80.4 C517.4,80.0 518.9,79.9 521.6,80.4 C524.3,80.9 526.8,81.7 529.6,83.4 C532.4,85.1 535.5,88.0 538.4,90.7 C541.3,93.4 543.7,96.0 547.1,99.4 C550.5,102.8 555.4,107.7 558.8,111.1 C562.2,114.5 564.9,117.6 567.6,119.9 C570.3,122.2 572.2,125.0 574.9,125.0 C577.6,125.0 580.5,122.7 583.6,119.9 C586.8,117.1 590.1,112.1 593.8,108.2 C597.4,104.3 602.0,100.2 605.5,96.5 C609.0,92.8 612.4,88.3 615.0,86.3 C617.6,84.3 618.1,84.8 621.3,84.3 C624.5,83.8 630.0,83.1 634.4,83.0 C638.8,82.9 643.2,83.6 647.6,83.7 C652.0,83.8 656.3,84.2 660.7,83.7 C665.1,83.2 670.1,82.1 673.8,81.0 C677.5,79.9 681.5,77.8 683.0,77.1" stroke="#dc2a2a" stroke-width="1.9" stroke-dasharray="1.6,3.9" stroke-linecap="round"/>
<path d="M486.0,13.0 C486.5,13.5 486.6,15.3 488.8,16.2 C491.0,17.1 495.4,17.7 499.0,18.4 C502.6,19.1 506.9,20.2 510.7,20.6 C514.5,21.0 518.5,20.2 521.6,20.6 C524.8,21.0 527.1,21.9 529.6,22.8 C532.1,23.7 535.7,25.5 536.9,26.0" stroke="#dc2a2a" stroke-width="1.9" stroke-dasharray="1.6,3.9" stroke-linecap="round"/>
<path d="M544.2,35.9 C545.9,36.4 551.2,38.1 554.4,38.8 C557.6,39.5 559.8,40.0 563.2,40.3 C566.6,40.5 571.2,40.1 574.9,40.3 C578.5,40.5 581.5,40.7 585.1,41.7 C588.8,42.7 593.0,44.4 596.8,46.1 C600.6,47.8 604.0,50.0 608.1,52.1 C612.2,54.2 616.9,56.3 621.3,58.7 C625.7,61.1 630.0,64.4 634.4,66.6 C638.8,68.8 643.2,70.4 647.6,71.8 C652.0,73.2 656.3,74.3 660.7,75.1 C665.1,75.9 670.1,76.1 673.8,76.4 C677.5,76.7 681.5,77.0 683.0,77.1" stroke="#dc2a2a" stroke-width="1.9" stroke-dasharray="1.6,3.9" stroke-linecap="round"/>
<path d="M651.5,39.6 C652.6,40.6 655.7,43.4 658.1,45.5 C660.5,47.6 663.4,50.4 666.0,52.1 C668.6,53.9 671.0,55.0 673.8,56.0 C676.6,57.0 681.5,57.7 683.0,58.0" stroke="#dc2a2a" stroke-width="1.9" stroke-dasharray="1.6,3.9" stroke-linecap="round"/>
<path d="M660.7,39.6 C661.6,40.5 664.2,43.4 666.0,45.0 C667.8,46.6 669.2,47.9 671.2,49.5 C673.2,51.1 675.8,53.5 677.8,54.7 C679.8,56.0 682.1,56.6 683.0,57.0" stroke="#dc2a2a" stroke-width="1.9" stroke-dasharray="1.6,3.9" stroke-linecap="round"/>
<path d="M664.0,40.0 C664.7,41.0 666.3,44.0 668.0,46.0 C669.7,48.0 671.5,50.0 674.0,52.0 C676.5,54.0 681.5,57.0 683.0,58.0" stroke="#dc2a2a" stroke-width="1.9" stroke-dasharray="1.6,3.9" stroke-linecap="round"/>
<path d="M427.0,173.1 C428.8,173.0 434.0,171.9 437.7,172.4 C441.4,172.9 445.8,174.0 449.4,176.1 C453.0,178.2 456.2,181.4 459.6,184.8 C463.0,188.2 466.2,192.8 469.8,196.5 C473.4,200.2 477.6,204.4 481.5,206.7 C485.4,209.0 489.1,210.0 493.2,210.4 C497.3,210.8 501.6,209.4 506.3,208.9 C511.0,208.4 517.7,207.8 521.6,207.4 C525.5,207.0 525.8,207.3 529.6,206.7 C533.4,206.1 539.3,205.8 544.2,203.8 C549.1,201.9 554.4,197.4 558.8,195.0 C563.2,192.6 567.8,190.3 570.5,189.2 C573.2,188.1 572.5,187.8 574.9,188.5 C577.3,189.2 581.5,191.3 585.1,193.6 C588.8,195.9 593.4,200.0 596.8,202.3 C600.2,204.6 601.9,205.7 605.5,207.3 C609.1,208.9 614.8,211.7 618.7,211.9 C622.7,212.1 625.7,210.7 629.2,208.6 C632.7,206.5 636.0,202.9 639.7,199.4 C643.4,195.9 647.8,191.5 651.5,187.6 C655.2,183.7 658.7,178.4 662.0,175.8 C665.3,173.2 667.7,172.2 671.2,171.8 C674.7,171.4 681.0,172.9 683.0,173.1" stroke="#dc2a2a" stroke-width="1.9" stroke-dasharray="1.6,3.9" stroke-linecap="round"/>
<path d="M427.0,234.5 C428.8,234.1 434.2,232.9 437.7,232.3 C441.2,231.7 444.5,230.7 447.9,230.8 C451.3,230.9 454.5,231.4 458.1,233.0 C461.8,234.6 464.9,237.5 469.8,240.2 C474.7,242.9 482.4,246.6 487.3,249.0 C492.2,251.4 495.1,253.2 499.0,254.8 C502.9,256.4 506.9,257.6 510.7,258.5 C514.5,259.4 518.5,260.0 521.6,259.9 C524.8,259.8 527.1,259.0 529.6,257.7 C532.1,256.4 534.2,254.1 536.9,251.9 C539.6,249.7 542.1,247.0 545.7,244.6 C549.4,242.2 553.9,238.9 558.8,237.3 C563.7,235.7 570.0,234.8 574.9,235.1 C579.8,235.3 583.9,237.0 588.0,238.8 C592.1,240.6 596.4,244.5 599.7,246.1 C603.1,247.7 604.9,247.5 608.1,248.4 C611.3,249.3 616.9,251.1 618.7,251.7" stroke="#dc2a2a" stroke-width="1.9" stroke-dasharray="1.6,3.9" stroke-linecap="round"/>
<path d="M427.0,253.4 C429.3,254.1 435.9,255.8 440.6,257.7 C445.3,259.6 450.3,262.3 455.2,265.0 C460.1,267.7 464.9,270.9 469.8,273.8 C474.7,276.7 479.5,280.3 484.4,282.6 C489.3,284.9 494.1,286.5 499.0,287.7 C503.9,288.9 509.8,289.5 513.6,289.9 C517.4,290.3 518.9,290.6 521.6,289.9 C524.3,289.2 525.8,286.6 529.6,285.5 C533.4,284.4 539.8,282.8 544.2,283.3 C548.6,283.8 552.5,286.6 555.9,288.4 C559.3,290.2 561.4,292.7 564.6,294.2 C567.8,295.7 571.5,297.4 574.9,297.2 C578.3,297.0 581.5,294.3 585.1,292.8 C588.8,291.3 593.4,289.4 596.8,288.4 C600.2,287.3 601.9,287.5 605.5,286.5 C609.1,285.5 614.3,282.8 618.7,282.6 C623.1,282.4 627.9,284.1 631.8,285.2 C635.7,286.3 639.2,288.2 642.3,289.1 C645.4,290.0 648.9,290.2 650.2,290.4" stroke="#dc2a2a" stroke-width="1.9" stroke-dasharray="1.6,3.9" stroke-linecap="round"/>
<path d="M469.8,278.2 C472.2,276.2 479.5,270.1 484.4,266.5 C489.3,262.9 494.1,259.5 499.0,256.3 C503.9,253.1 509.8,249.4 513.6,247.5 C517.4,245.6 518.9,244.6 521.6,244.6 C524.3,244.6 526.3,245.6 529.6,247.5 C532.9,249.4 538.1,252.9 541.3,256.3 C544.5,259.7 546.2,263.9 548.6,268.0 C551.0,272.1 553.5,277.2 555.9,281.1 C558.3,285.0 560.8,288.1 563.2,291.3 C565.6,294.5 568.5,297.2 570.5,300.1 C572.5,303.0 573.4,308.3 574.9,308.8 C576.4,309.3 577.0,305.4 579.2,303.0 C581.4,300.6 585.1,297.4 588.0,294.2 C590.9,291.0 593.9,287.6 596.8,284.0 C599.7,280.4 602.5,275.7 605.5,272.3 C608.5,268.9 611.8,264.9 615.0,263.6 C618.2,262.3 621.8,263.4 625.0,264.5 C628.2,265.6 631.7,268.6 634.4,270.4 C637.1,272.1 638.7,274.8 641.4,275.0 C644.1,275.2 647.6,272.7 650.7,271.5 C653.8,270.3 656.9,269.4 660.0,268.0 C663.1,266.6 666.3,264.9 669.4,263.4 C672.5,261.8 676.4,259.8 678.7,258.7 C681.0,257.6 682.3,257.3 683.0,257.0" stroke="#dc2a2a" stroke-width="1.9" stroke-dasharray="1.6,3.9" stroke-linecap="round"/>
<path d="M427.0,263.6 C429.3,263.8 435.9,263.6 440.6,265.0 C445.3,266.4 450.3,269.9 455.2,272.3 C460.1,274.7 464.9,277.4 469.8,279.6 C474.7,281.8 479.5,283.6 484.4,285.5 C489.3,287.4 494.1,289.4 499.0,291.3 C503.9,293.2 509.8,295.5 513.6,297.2 C517.4,298.9 518.9,299.1 521.6,301.5 C524.3,303.9 527.5,309.1 529.6,311.8 C531.7,314.6 533.3,317.0 534.0,318.0" stroke="#dc2a2a" stroke-width="1.9" stroke-dasharray="1.6,3.9" stroke-linecap="round"/>
<path d="M427.0,314.7 C429.3,313.7 435.9,311.0 440.6,308.8 C445.3,306.6 450.3,303.9 455.2,301.5 C460.1,299.1 464.9,296.9 469.8,294.2 C474.7,291.4 479.5,288.4 484.4,285.0 C489.3,281.6 494.1,277.4 499.0,273.8 C503.9,270.2 509.8,265.9 513.6,263.6 C517.4,261.3 520.3,260.6 521.6,260.0" stroke="#dc2a2a" stroke-width="1.9" stroke-dasharray="1.6,3.9" stroke-linecap="round"/>
<path d="M544.2,255.5 C546.6,255.3 553.7,254.4 558.8,254.1 C563.9,253.8 570.0,253.3 574.9,253.4 C579.8,253.5 583.4,254.1 588.0,254.8 C592.6,255.5 598.1,257.1 602.6,257.7 C607.1,258.3 612.9,258.4 615.0,258.5" stroke="#dc2a2a" stroke-width="1.9" stroke-dasharray="1.6,3.9" stroke-linecap="round"/>
<path d="M541.3,263.6 C542.5,265.3 545.9,269.7 548.6,273.8 C551.3,277.9 554.4,284.0 557.3,288.4 C560.2,292.8 563.2,296.8 566.1,300.1 C569.0,303.4 572.5,306.1 574.9,308.0 C577.3,309.9 579.0,310.1 580.7,311.8 C582.4,313.5 584.3,317.0 585.0,318.0" stroke="#dc2a2a" stroke-width="1.9" stroke-dasharray="1.6,3.9" stroke-linecap="round"/>
<path d="M564.6,318.0 C565.6,317.0 568.8,313.3 570.5,311.8 C572.2,310.3 574.2,309.3 574.9,308.8" stroke="#dc2a2a" stroke-width="1.9" stroke-dasharray="1.6,3.9" stroke-linecap="round"/>
<path d="M427.0,272.3 C429.3,275.0 437.1,283.3 440.6,288.4 C444.1,293.5 445.9,298.1 447.9,303.0 C449.8,307.9 451.6,315.5 452.3,318.0" stroke="#dc2a2a" stroke-width="1.9" stroke-dasharray="1.6,3.9" stroke-linecap="round"/>
<path d="M427.0,268.0 C428.5,270.8 433.5,279.7 436.0,285.0 C438.5,290.3 440.3,294.5 442.0,300.0 C443.7,305.5 445.3,315.0 446.0,318.0" stroke="#dc2a2a" stroke-width="1.9" stroke-dasharray="1.6,3.9" stroke-linecap="round"/>
<path d="M427.0,280.0 C428.2,282.5 432.2,288.7 434.0,295.0 C435.8,301.3 437.3,314.2 438.0,318.0" stroke="#dc2a2a" stroke-width="1.9" stroke-dasharray="1.6,3.9" stroke-linecap="round"/>
<path d="M427.0,298.6 C429.3,298.4 435.9,296.9 440.6,297.2 C445.3,297.4 450.3,298.4 455.2,300.1 C460.1,301.8 464.9,305.0 469.8,307.4 C474.7,309.8 481.0,312.9 484.4,314.7 C487.8,316.5 489.1,317.4 490.0,318.0" stroke="#dc2a2a" stroke-width="1.9" stroke-dasharray="1.6,3.9" stroke-linecap="round"/>
<path d="M595.0,256.3 C597.2,256.6 604.1,258.1 608.1,258.3 C612.1,258.5 614.8,257.1 618.7,257.6 C622.7,258.1 627.4,260.2 631.8,261.5 C636.2,262.8 640.6,265.1 645.0,265.5 C649.4,265.9 653.7,265.3 658.1,264.2 C662.5,263.1 667.1,260.5 671.2,258.9 C675.4,257.2 681.0,255.1 683.0,254.3" stroke="#dc2a2a" stroke-width="1.9" stroke-dasharray="1.6,3.9" stroke-linecap="round"/>
<path d="M595.0,279.9 C597.2,277.7 603.7,271.6 608.1,266.8 C612.5,262.0 616.9,255.4 621.3,251.0 C625.7,246.6 630.0,243.6 634.4,240.5 C638.8,237.4 643.2,234.2 647.6,232.6 C652.0,231.0 656.3,230.8 660.7,230.7 C665.1,230.6 670.1,231.5 673.8,232.0 C677.5,232.5 681.5,233.6 683.0,233.9" stroke="#dc2a2a" stroke-width="1.9" stroke-dasharray="1.6,3.9" stroke-linecap="round"/>
<path d="M621.3,318.0 C623.5,315.2 630.0,306.2 634.4,301.0 C638.8,295.8 643.2,291.1 647.6,286.5 C652.0,281.9 656.8,277.1 660.7,273.4 C664.6,269.7 667.5,267.0 671.2,264.2 C674.9,261.4 681.0,257.6 683.0,256.3" stroke="#dc2a2a" stroke-width="1.9" stroke-dasharray="1.6,3.9" stroke-linecap="round"/>
<path d="M658.1,308.8 C659.9,309.2 664.5,310.4 668.6,311.5 C672.8,312.6 680.6,314.8 683.0,315.4" stroke="#dc2a2a" stroke-width="1.9" stroke-dasharray="1.6,3.9" stroke-linecap="round"/>
<path d="M630.9,318.0 C632.2,315.9 636.1,309.0 639.0,305.4 C641.9,301.8 645.3,298.4 648.4,296.1 C651.5,293.8 654.6,292.6 657.7,291.4 C660.8,290.2 662.8,289.7 667.0,289.0 C671.2,288.3 680.3,287.3 683.0,287.0" stroke="#dc2a2a" stroke-width="1.9" stroke-dasharray="1.6,3.9" stroke-linecap="round"/>
<path d="M653.0,318.0 C654.2,315.9 657.3,309.0 660.0,305.4 C662.7,301.8 666.3,298.4 669.4,296.1 C672.5,293.8 676.4,292.4 678.7,291.4 C681.0,290.4 682.3,290.2 683.0,290.0" stroke="#dc2a2a" stroke-width="1.9" stroke-dasharray="1.6,3.9" stroke-linecap="round"/>
<path d="M645.0,318.0 C646.7,315.0 651.3,305.8 655.0,300.0 C658.7,294.2 662.3,287.7 667.0,283.0 C671.7,278.3 680.3,273.8 683.0,272.0" stroke="#dc2a2a" stroke-width="1.9" stroke-dasharray="1.6,3.9" stroke-linecap="round"/>
<path d="M440.6,74.0 C442.3,72.0 447.4,66.0 450.8,62.2 C454.2,58.4 457.8,54.0 461.0,51.2 C464.2,48.4 467.1,46.6 469.8,45.4 C472.5,44.2 474.7,43.5 477.1,43.9 C479.5,44.3 482.0,45.5 484.4,47.6 C486.8,49.7 489.3,53.4 491.7,56.3 C494.1,59.2 496.8,62.4 499.0,65.1 C501.2,67.8 502.9,70.6 504.8,72.4 C506.8,74.2 508.3,74.8 510.7,76.1 C513.1,77.4 517.6,79.7 519.4,80.4 C521.2,81.1 520.4,80.9 521.6,80.4 C522.8,79.9 524.6,79.4 526.7,77.5 C528.8,75.6 531.8,71.5 534.0,68.8 C536.2,66.1 538.3,63.8 539.8,61.5 C541.2,59.2 541.8,57.8 542.7,55.0 C543.6,52.2 544.1,49.2 545.0,45.0 C545.9,40.8 547.0,34.8 548.0,30.0 C549.0,25.2 550.5,18.3 551.0,16.0" stroke="#222" stroke-width="1.8"/>
<path d="M428.2,84.1 C429.8,83.2 435.1,80.7 437.7,79.0 C440.2,77.3 440.6,77.0 443.5,74.0 C446.4,71.0 451.6,64.9 455.2,60.7 C458.8,56.5 462.2,52.2 465.4,49.0 C468.6,45.8 471.5,43.0 474.2,41.7 C476.9,40.4 479.3,40.9 481.5,41.0 C483.7,41.1 484.4,41.6 487.3,42.5 C490.2,43.4 495.1,45.1 499.0,46.1 C502.9,47.1 506.9,47.8 510.7,48.3 C514.5,48.8 518.5,48.5 521.6,49.0 C524.8,49.5 527.1,50.2 529.6,51.2 C532.1,52.2 534.5,53.5 536.9,54.9 C539.3,56.2 541.3,57.8 544.2,59.3 C547.1,60.8 550.8,62.6 554.4,63.6 C558.0,64.6 562.7,64.8 566.1,65.1 C569.5,65.3 571.7,64.8 574.9,65.1 C578.1,65.3 581.5,65.6 585.1,66.6 C588.8,67.6 593.0,69.2 596.8,70.9 C600.6,72.7 604.0,74.8 608.1,77.1 C612.2,79.4 616.9,82.4 621.3,85.0 C625.7,87.6 630.0,90.7 634.4,92.9 C638.8,95.1 643.2,96.7 647.6,98.1 C652.0,99.5 656.3,100.3 660.7,101.4 C665.1,102.5 670.1,103.8 673.8,104.7 C677.5,105.6 681.5,106.3 683.0,106.6" stroke="#222" stroke-width="1.8"/>
<path d="M428.2,84.1 C429.8,83.4 434.4,81.7 437.7,80.0 C441.0,78.3 443.8,77.7 447.9,74.0 C452.0,70.3 458.1,62.2 462.5,57.8 C466.9,53.4 470.6,50.3 474.2,47.6 C477.8,44.9 481.2,43.9 484.4,41.7 C487.6,39.5 490.3,36.3 493.2,34.4 C496.1,32.5 499.0,31.3 501.9,30.1 C504.8,28.9 507.4,27.8 510.7,27.1 C514.0,26.4 518.5,26.1 521.6,25.7 C524.8,25.3 527.1,25.7 529.6,25.0 C532.1,24.3 534.8,22.8 536.9,21.3 C539.0,19.8 540.8,17.4 542.0,16.2 C543.2,15.0 543.7,14.4 544.0,14.0" stroke="#222" stroke-width="1.8"/>
<path d="M486.0,13.0 C486.5,13.5 486.6,14.6 488.8,16.2 C491.0,17.8 496.1,20.7 499.0,22.8 C501.9,24.9 503.9,27.0 506.3,28.6 C508.7,30.2 511.1,31.4 513.6,32.2 C516.1,33.1 518.9,33.8 521.6,33.7 C524.3,33.6 527.1,32.8 529.6,31.5 C532.1,30.2 535.1,27.6 536.9,25.7 C538.7,23.8 539.5,21.4 540.5,19.8 C541.5,18.2 542.1,17.2 542.7,16.2 C543.3,15.2 543.8,14.4 544.0,14.0" stroke="#222" stroke-width="1.8"/>
<path d="M428.2,84.1 C430.3,84.2 436.1,84.3 440.6,84.8 C445.1,85.3 450.3,85.9 455.2,87.0 C460.1,88.1 465.4,90.2 469.8,91.4 C474.2,92.6 477.1,93.6 481.5,94.3 C485.9,95.0 491.2,95.5 496.1,95.8 C501.0,96.0 506.4,95.8 510.7,95.8 C515.0,95.8 518.5,96.0 521.6,95.8 C524.8,95.5 525.8,95.4 529.6,94.3 C533.4,93.2 539.3,91.2 544.2,89.2 C549.1,87.2 553.7,84.5 558.8,82.6 C563.9,80.6 570.0,77.9 574.9,77.5 C579.8,77.1 583.9,78.9 588.0,80.4 C592.1,81.9 596.3,84.7 599.7,86.3 C603.1,87.9 605.9,88.9 608.4,89.9 C610.9,90.9 611.5,91.8 614.7,92.2 C618.0,92.6 623.5,92.4 627.9,92.2 C632.3,92.0 636.6,91.7 641.0,90.9 C645.4,90.1 649.7,88.6 654.1,87.6 C658.5,86.6 662.5,85.5 667.3,85.0 C672.1,84.5 680.4,84.4 683.0,84.3" stroke="#222" stroke-width="1.8"/>
<path d="M428.2,105.3 C429.3,105.2 432.7,105.0 434.8,104.5 C436.9,104.0 437.2,103.1 440.6,102.3 C444.0,101.5 450.3,100.6 455.2,99.4 C460.1,98.2 465.9,96.1 469.8,95.0 C473.7,93.9 475.0,93.9 478.6,92.8 C482.2,91.7 487.1,89.5 491.7,88.5 C496.3,87.5 501.3,87.1 506.3,87.0 C511.3,86.9 518.2,87.8 521.6,87.7 C525.0,87.6 524.6,88.0 526.7,86.3 C528.8,84.6 531.8,80.4 534.0,77.5 C536.2,74.6 538.1,71.5 539.8,68.8 C541.5,66.1 542.7,64.3 544.2,61.5 C545.7,58.7 547.7,55.2 549.0,52.0 C550.3,48.8 550.8,45.7 552.0,42.0 C553.2,38.3 554.7,33.0 556.0,30.0 C557.3,27.0 558.3,25.2 560.0,24.0 C561.7,22.8 563.5,22.7 566.0,22.5 C568.5,22.3 572.2,23.0 574.9,22.8 C577.6,22.6 579.5,22.2 582.2,21.3 C584.9,20.4 588.8,18.8 590.9,17.6 C593.0,16.4 594.3,14.6 595.0,14.0" stroke="#222" stroke-width="1.8"/>
<path d="M428.2,103.8 C429.3,104.2 432.7,105.3 434.8,106.0 C436.9,106.7 437.7,107.6 440.6,108.2 C443.5,108.8 447.4,109.7 452.3,109.6 C457.2,109.5 464.5,108.1 469.8,107.4 C475.1,106.7 479.5,106.0 484.4,105.3 C489.3,104.6 494.1,103.8 499.0,103.1 C503.9,102.4 509.8,101.4 513.6,100.9 C517.4,100.4 518.9,99.9 521.6,100.1 C524.3,100.3 526.3,100.7 529.6,102.3 C532.9,103.9 537.6,106.9 541.3,109.6 C544.9,112.3 547.9,115.2 551.5,118.4 C555.1,121.6 559.3,125.7 563.2,128.6 C567.1,131.5 571.2,135.2 574.9,135.9 C578.5,136.6 581.5,135.4 585.1,133.0 C588.8,130.6 593.4,124.9 596.8,121.3 C600.2,117.7 602.5,113.8 605.5,111.2 C608.5,108.7 611.0,107.2 614.7,106.0 C618.4,104.8 623.5,104.1 627.9,104.0 C632.3,103.9 636.6,104.5 641.0,105.3 C645.4,106.1 650.4,107.9 654.1,108.6 C657.8,109.3 660.0,109.7 663.3,109.3 C666.6,108.9 670.5,107.0 673.8,106.0 C677.1,105.0 681.5,103.8 683.0,103.4" stroke="#222" stroke-width="1.8"/>
<path d="M532.5,80.0 C533.2,79.0 534.9,77.0 536.9,74.0 C538.9,71.0 541.5,65.2 544.2,62.2 C546.9,59.2 549.8,57.6 553.0,56.3 C556.2,54.9 559.6,54.3 563.2,54.1 C566.9,53.9 571.2,55.2 574.9,54.9 C578.5,54.5 581.5,53.6 585.1,52.0 C588.8,50.4 592.9,47.2 596.8,45.4 C600.7,43.6 605.4,41.9 608.4,41.0 C611.4,40.1 612.9,40.4 615.0,40.3 C617.1,40.2 618.9,39.9 621.3,40.3 C623.7,40.7 626.6,41.4 629.2,42.9 C631.8,44.4 634.4,47.1 637.0,49.5 C639.6,51.9 642.3,54.8 644.9,57.4 C647.5,60.0 650.6,62.8 652.8,65.2 C655.0,67.6 655.5,69.4 658.1,71.8 C660.7,74.2 665.5,77.7 668.6,79.7 C671.7,81.7 674.1,82.9 676.5,83.7 C678.9,84.5 681.9,84.2 683.0,84.3" stroke="#222" stroke-width="1.8"/>
<path d="M641.6,40.3 C642.6,41.6 645.5,45.4 647.6,48.2 C649.7,51.1 651.9,54.3 654.1,57.4 C656.3,60.5 658.7,63.8 660.7,66.6 C662.7,69.4 664.2,71.8 666.0,74.0 C667.8,76.2 668.4,78.0 671.2,79.7 C674.0,81.4 681.0,83.5 683.0,84.3" stroke="#222" stroke-width="1.8"/>
<path d="M643.6,41.6 C644.9,43.6 649.1,49.9 651.5,53.4 C653.9,56.9 655.9,59.5 658.1,62.6 C660.3,65.7 662.0,69.2 664.6,71.8 C667.2,74.4 670.7,76.3 673.8,78.4 C676.9,80.5 681.5,83.3 683.0,84.3" stroke="#222" stroke-width="1.8"/>
<path d="M427.0,172.4 C429.3,172.1 436.9,170.4 440.6,170.5 C444.3,170.6 446.5,171.4 449.4,173.1 C452.3,174.8 454.7,177.2 458.1,180.4 C461.5,183.6 465.9,188.8 469.8,192.1 C473.7,195.4 477.9,198.3 481.5,200.1 C485.1,201.8 487.6,202.3 491.7,202.6 C495.8,202.9 501.3,202.1 506.3,201.9 C511.3,201.7 516.5,201.8 521.6,201.5 C526.7,201.2 531.9,201.3 536.9,200.1 C541.9,198.9 547.1,196.0 551.5,194.3 C555.9,192.6 559.3,191.0 563.2,189.9 C567.1,188.8 571.2,187.6 574.9,187.7 C578.5,187.8 581.5,189.0 585.1,190.7 C588.8,192.4 593.4,196.1 596.8,198.0 C600.2,199.9 602.1,200.8 605.5,202.0 C608.9,203.2 613.6,205.3 617.3,205.3 C621.0,205.3 624.4,203.8 627.9,202.0 C631.4,200.2 634.7,197.5 638.4,194.2 C642.1,190.9 646.5,185.8 650.2,182.3 C653.9,178.8 657.6,175.1 660.7,173.1 C663.8,171.1 666.0,170.6 668.6,170.2 C671.2,169.8 674.1,170.3 676.5,170.5 C678.9,170.7 681.9,171.1 683.0,171.2" stroke="#222" stroke-width="1.8"/>
<path d="M427.0,222.8 C428.8,222.3 434.2,220.6 437.7,219.9 C441.2,219.2 444.5,218.4 447.9,218.4 C451.3,218.4 454.5,218.9 458.1,219.9 C461.8,220.9 465.4,222.3 469.8,224.2 C474.2,226.1 479.5,229.1 484.4,231.5 C489.3,233.9 494.7,237.1 499.0,238.8 C503.3,240.6 506.2,241.4 510.0,242.0 C513.8,242.6 518.3,242.7 521.6,242.4 C524.9,242.1 527.4,241.1 530.0,240.0 C532.6,238.9 534.1,237.7 537.0,236.0 C539.9,234.3 543.5,232.2 547.1,230.1 C550.7,228.0 554.2,225.2 558.8,223.5 C563.4,221.8 570.0,220.0 574.9,219.9 C579.8,219.8 583.4,221.1 588.0,222.8 C592.6,224.5 598.8,228.0 602.6,230.1 C606.4,232.2 608.3,234.1 610.8,235.3 C613.2,236.5 615.1,237.4 617.3,237.2 C619.5,237.0 621.7,235.1 623.9,233.9 C626.1,232.7 627.6,231.8 630.5,230.0 C633.4,228.2 637.1,225.0 641.0,223.1 C644.9,221.2 649.7,219.2 654.1,218.5 C658.5,217.8 662.5,218.3 667.3,219.1 C672.1,219.9 680.4,222.4 683.0,223.1" stroke="#222" stroke-width="1.8"/>
<path d="M497.0,240.0 C499.0,238.9 505.5,235.0 509.2,233.7 C512.9,232.4 516.0,232.2 519.4,232.3 C522.8,232.4 526.7,233.5 529.6,234.4 C532.5,235.3 534.2,237.2 536.9,237.8 C539.6,238.4 542.4,238.4 546.0,238.2 C549.6,238.0 554.0,237.1 558.8,236.6 C563.6,236.1 570.0,235.0 574.9,235.1 C579.8,235.2 583.4,236.2 588.0,237.3 C592.6,238.4 597.7,240.7 602.6,241.7 C607.5,242.7 613.1,242.2 617.3,243.1 C621.5,244.0 623.9,245.8 627.9,247.1 C631.9,248.4 636.6,250.0 641.0,251.0 C645.4,252.0 650.4,253.2 654.1,253.0 C657.8,252.8 660.0,251.1 663.3,249.7 C666.6,248.3 670.5,245.7 673.8,244.5 C677.1,243.3 681.5,242.8 683.0,242.5" stroke="#222" stroke-width="1.8"/>
<path d="M427.0,242.4 C428.8,242.7 434.0,242.8 437.7,243.9 C441.4,245.0 445.5,246.9 449.4,249.0 C453.3,251.1 457.6,254.1 461.0,256.3 C464.4,258.5 466.4,260.2 469.8,262.1 C473.2,264.1 477.6,266.3 481.5,268.0 C485.4,269.7 488.8,271.3 493.2,272.3 C497.6,273.3 503.1,273.5 507.8,273.8 C512.5,274.1 518.0,274.5 521.6,274.0 C525.2,273.5 526.3,272.0 529.6,270.9 C532.9,269.8 537.4,267.7 541.3,267.2 C545.2,266.7 549.4,267.1 553.0,268.0 C556.6,268.9 559.6,270.7 563.2,272.3 C566.9,273.9 571.2,277.1 574.9,277.4 C578.5,277.6 581.5,275.1 585.1,273.8 C588.8,272.5 593.4,270.3 596.8,269.4 C600.2,268.4 602.1,268.9 605.5,268.1 C608.9,267.3 613.6,265.0 617.3,264.8 C621.0,264.6 624.2,265.6 627.9,266.8 C631.6,268.0 635.3,270.7 639.7,272.0 C644.1,273.3 650.0,274.2 654.1,274.7 C658.2,275.1 659.8,273.8 664.6,274.7 C669.4,275.6 679.9,279.0 683.0,279.9" stroke="#222" stroke-width="1.8"/>
<path d="M427.0,243.0 C429.3,243.5 435.9,244.1 440.6,246.1 C445.3,248.1 450.3,251.9 455.2,254.8 C460.1,257.7 465.4,260.9 469.8,263.6 C474.2,266.3 477.6,268.2 481.5,270.9 C485.4,273.6 488.8,277.3 493.2,279.6 C497.6,281.9 503.1,283.6 507.8,284.7 C512.5,285.8 518.5,285.3 521.6,286.2 C524.8,287.1 524.6,288.1 526.7,289.9 C528.8,291.7 531.1,294.8 534.0,297.2 C536.9,299.6 540.8,303.1 544.2,304.5 C547.6,305.9 550.8,306.6 554.4,305.9 C558.0,305.2 562.7,302.1 566.1,300.1 C569.5,298.2 572.0,294.4 574.9,294.2 C577.8,293.9 580.7,296.2 583.6,298.6 C586.5,301.0 589.5,305.7 592.4,308.8 C595.3,311.9 599.5,315.8 601.1,317.3 C602.7,318.8 601.9,317.9 602.0,318.0" stroke="#222" stroke-width="1.8"/>
<path d="M427.0,279.6 C429.3,279.5 437.6,279.6 440.6,278.9 C443.6,278.2 442.6,276.4 445.0,275.3 C447.4,274.2 451.1,274.4 455.2,272.3 C459.3,270.2 464.9,266.2 469.8,262.8 C474.7,259.4 480.0,255.4 484.4,251.9 C488.8,248.4 492.2,244.5 496.1,241.7 C500.0,238.9 503.9,236.7 507.8,235.1 C511.7,233.5 516.4,232.7 519.4,232.2 C522.4,231.7 524.9,232.2 526.0,232.2" stroke="#222" stroke-width="1.8"/>
<path d="M427.0,251.9 C429.3,252.3 435.9,252.9 440.6,254.1 C445.3,255.3 450.3,257.6 455.2,259.2 C460.1,260.8 465.4,263.6 469.8,263.6 C474.2,263.6 477.6,261.1 481.5,259.2 C485.4,257.2 489.8,254.1 493.2,251.9 C496.6,249.7 499.0,247.4 501.9,246.1 C504.8,244.8 507.4,244.5 510.7,243.9 C514.0,243.3 518.5,242.4 521.6,242.4 C524.8,242.4 527.1,243.6 529.6,244.0 C532.1,244.4 534.5,243.3 536.9,244.6 C539.3,245.9 541.8,249.0 544.2,251.9 C546.6,254.8 549.1,258.5 551.5,262.1 C553.9,265.8 556.4,270.2 558.8,273.8 C561.2,277.4 563.4,281.3 566.1,284.0 C568.8,286.7 572.0,289.4 574.9,289.9 C577.8,290.4 580.2,289.6 583.6,286.9 C587.0,284.2 591.6,278.4 595.3,273.8 C598.9,269.2 602.9,262.7 605.5,259.2 C608.1,255.7 609.4,255.0 611.0,253.0 C612.6,251.0 613.7,248.5 615.0,247.0 C616.3,245.5 618.3,244.5 619.0,244.0" stroke="#222" stroke-width="1.8"/>
<path d="M427.0,257.7 C429.3,257.9 435.9,257.5 440.6,259.0 C445.3,260.5 450.3,263.3 455.2,266.5 C460.1,269.7 464.9,274.3 469.8,278.2 C474.7,282.1 479.5,286.2 484.4,289.9 C489.3,293.5 494.1,297.3 499.0,300.1 C503.9,302.9 509.1,305.2 513.6,306.6 C518.1,308.1 522.6,307.0 526.0,308.8 C529.4,310.6 532.7,315.9 534.0,317.3" stroke="#222" stroke-width="1.8"/>
<path d="M427.0,296.4 C429.3,296.0 435.9,295.5 440.6,294.2 C445.3,292.9 450.8,290.1 455.2,288.4 C459.6,286.7 463.7,284.6 466.9,284.0 C470.1,283.4 471.3,283.5 474.2,284.7 C477.1,285.9 480.3,289.0 484.4,291.3 C488.5,293.6 494.1,296.4 499.0,298.6 C503.9,300.8 509.9,303.0 513.6,304.5 C517.3,306.0 518.3,305.9 521.0,307.4 C523.7,308.8 527.4,311.4 529.6,313.2 C531.8,315.0 533.3,317.2 534.0,318.0" stroke="#222" stroke-width="1.8"/>
<path d="M427.0,258.0 C428.8,259.4 434.7,263.1 437.7,266.5 C440.7,269.9 443.1,274.6 445.0,278.2 C446.9,281.8 447.9,284.8 449.4,288.4 C450.8,292.0 452.2,295.3 453.7,300.1 C455.1,304.9 457.3,314.3 458.1,317.3 C458.9,320.3 458.4,317.9 458.5,318.0" stroke="#222" stroke-width="1.8"/>
<path d="M427.0,259.0 C429.2,261.2 436.7,267.7 440.0,272.0 C443.3,276.3 445.2,280.3 447.0,285.0 C448.8,289.7 449.4,294.5 451.0,300.0 C452.6,305.5 455.8,315.0 456.7,318.0" stroke="#222" stroke-width="1.8"/>
<path d="M427.0,296.4 C429.3,296.8 435.9,297.0 440.6,298.6 C445.3,300.2 450.8,302.7 455.2,305.9 C459.6,309.1 464.9,316.0 466.9,318.0" stroke="#222" stroke-width="1.8"/>
<path d="M469.8,284.0 C472.2,285.7 479.5,291.0 484.4,294.2 C489.3,297.4 494.6,300.9 499.0,303.0 C503.4,305.1 507.0,306.1 510.7,307.0 C514.4,307.9 518.0,307.5 521.0,308.5 C524.0,309.5 526.6,311.6 528.6,313.2 C530.6,314.8 532.3,317.2 533.0,318.0" stroke="#222" stroke-width="1.8"/>
<path d="M564.6,318.0 C566.3,317.2 571.5,313.2 574.9,313.2 C578.3,313.2 583.4,317.2 585.1,318.0" stroke="#222" stroke-width="1.8"/>
<path d="M596.8,318.0 C598.2,317.6 602.2,316.3 605.5,315.4 C608.8,314.5 612.9,313.9 616.6,312.8 C620.4,311.7 624.2,310.6 628.0,309.0 C631.8,307.4 635.7,304.9 639.4,303.3 C643.1,301.7 646.5,300.4 650.0,299.5 C653.5,298.6 657.0,298.1 660.3,297.6 C663.6,297.1 666.2,296.8 670.0,296.5 C673.8,296.2 680.8,295.8 683.0,295.7" stroke="#222" stroke-width="1.8"/>
<path d="M613.3,318.0 C615.2,314.7 621.3,304.6 625.0,298.4 C628.7,292.2 631.8,286.5 635.5,280.9 C639.2,275.2 643.7,268.8 647.2,264.5 C650.7,260.2 653.7,257.6 656.6,255.2 C659.5,252.8 661.8,251.5 664.7,250.0 C667.6,248.5 671.0,247.2 674.0,246.0 C677.0,244.8 681.5,243.5 683.0,243.0" stroke="#222" stroke-width="1.8"/>
<path d="M604.0,314.7 C606.0,314.3 611.9,313.8 615.7,312.4 C619.5,310.9 623.5,308.3 627.0,306.0 C630.5,303.7 633.5,301.6 636.7,298.4 C639.9,295.2 643.3,289.2 646.0,286.7 C648.7,284.2 650.7,283.6 653.0,283.2 C655.3,282.8 657.9,283.4 660.0,284.4 C662.1,285.4 663.5,287.8 665.9,289.0 C668.2,290.2 671.2,290.9 674.1,291.4 C677.0,291.9 681.5,291.9 683.0,292.0" stroke="#222" stroke-width="1.8"/>
<path d="M630.9,318.0 C632.1,315.5 635.6,307.7 637.9,303.1 C640.2,298.5 642.8,293.5 644.9,290.2 C647.0,286.9 648.4,285.1 650.7,283.2 C653.0,281.2 656.4,279.5 658.9,278.5 C661.4,277.5 663.4,277.4 665.9,277.4 C668.4,277.4 671.1,278.0 674.0,278.5 C676.9,279.0 681.5,280.0 683.0,280.3" stroke="#222" stroke-width="1.8"/>
<path d="M640.2,318.0 C641.6,315.1 645.9,305.5 648.4,300.7 C650.9,295.9 653.1,292.7 655.4,289.0 C657.7,285.3 660.1,282.0 662.4,278.5 C664.7,275.0 667.1,271.1 669.4,268.0 C671.7,264.9 674.1,261.5 676.4,259.9 C678.7,258.2 681.9,258.4 683.0,258.1" stroke="#222" stroke-width="1.8"/>
<path d="M649.5,318.0 C650.5,315.7 653.4,308.4 655.4,304.2 C657.4,300.0 659.2,296.9 661.2,292.6 C663.2,288.3 665.4,282.8 667.1,278.5 C668.9,274.2 669.8,270.2 671.7,266.9 C673.6,263.6 676.8,260.2 678.7,258.7 C680.6,257.2 682.3,258.1 683.0,258.0" stroke="#222" stroke-width="1.8"/>
<path d="M654.2,318.0 C655.6,315.9 659.5,308.7 662.4,305.4 C665.3,302.1 669.0,299.9 671.7,298.4 C674.4,296.8 676.8,296.6 678.7,296.1 C680.6,295.6 682.3,295.6 683.0,295.5" stroke="#222" stroke-width="1.8"/>
<path d="M660.0,290.2 C661.6,290.8 665.6,292.8 669.4,293.7 C673.2,294.6 680.7,295.2 683.0,295.5" stroke="#222" stroke-width="1.8"/>
</g>
<g stroke="#2a2a55" stroke-width="1.3"><line x1="427.1" y1="16.3" x2="434.1" y2="16.3"/><line x1="683.1" y1="16.3" x2="676.1" y2="16.3"/><line x1="427.1" y1="91.6" x2="434.1" y2="91.6"/><line x1="683.1" y1="91.6" x2="676.1" y2="91.6"/><line x1="427.1" y1="166.9" x2="434.1" y2="166.9"/><line x1="683.1" y1="166.9" x2="676.1" y2="166.9"/><line x1="427.1" y1="242.2" x2="434.1" y2="242.2"/><line x1="683.1" y1="242.2" x2="676.1" y2="242.2"/><line x1="427.1" y1="317.5" x2="434.1" y2="317.5"/><line x1="683.1" y1="317.5" x2="676.1" y2="317.5"/><line x1="427.1" y1="54.0" x2="431.1" y2="54.0"/><line x1="683.1" y1="54.0" x2="679.1" y2="54.0"/><line x1="427.1" y1="129.2" x2="431.1" y2="129.2"/><line x1="683.1" y1="129.2" x2="679.1" y2="129.2"/><line x1="427.1" y1="204.6" x2="431.1" y2="204.6"/><line x1="683.1" y1="204.6" x2="679.1" y2="204.6"/><line x1="427.1" y1="279.9" x2="431.1" y2="279.9"/><line x1="683.1" y1="279.9" x2="679.1" y2="279.9"/></g>
<line x1="427.1" y1="16.3" x2="683.1" y2="16.3" stroke="#222" stroke-width="1.9"/>
<line x1="427.1" y1="317.5" x2="683.1" y2="317.5" stroke="#222" stroke-width="1.9"/>
<line x1="427.1" y1="16.3" x2="427.1" y2="317.5" stroke="#3a3a6a" stroke-width="1.9"/>
<line x1="683.1" y1="16.3" x2="683.1" y2="317.5" stroke="#3a3a6a" stroke-width="1.9"/>
<text x="420.3" y="21.9" text-anchor="end" class="yl">5.0</text>
<text x="420.3" y="97.2" text-anchor="end" class="yl">2.5</text>
<text x="420.3" y="172.5" text-anchor="end" class="yl">0.0</text>
<text x="420.3" y="247.8" text-anchor="end" class="yl">-2.5</text>
<text x="420.3" y="323.1" text-anchor="end" class="yl">-5.0</text>
<text x="427.4" y="339.0" text-anchor="start" class="xl">Γ</text>
<text x="519.1" y="339.0" text-anchor="middle" class="xl">M</text>
<text x="576.3" y="339.0" text-anchor="middle" class="xl">K</text>
<text x="683.4" y="339.0" text-anchor="end" class="xl">Γ</text>
<line x1="427.6" y1="7.0" x2="465.6" y2="7.0" stroke="#222" stroke-width="1.9"/>
<text x="469.40000000000003" y="12.5" class="lg">PBE</text>
<line x1="603.1" y1="7.0" x2="641.1" y2="7.0" stroke="#e0282a" stroke-width="1.9" stroke-dasharray="3.5,2"/>
<text x="677.5" y="12.5" text-anchor="end" class="lg">HSE</text>
<rect x="599" y="17.3" width="83.10000000000002" height="22.5" fill="#fff"/>
<rect x="428.6" y="20.3" width="22.5" height="20" fill="#fff"/>
<text x="431.40000000000003" y="35.6" class="pl">(b)</text>
<text x="678.3000000000001" y="35.7" text-anchor="end" class="nm">MoGe<tspan class="sm">2</tspan>N<tspan class="sm">4</tspan></text>
<clipPath id="clipc"><rect x="65.5" y="376" width="258.8" height="301.79999999999995"/></clipPath>
<g stroke="#8080f0" stroke-width="1" stroke-dasharray="2.6,2.2" fill="none">
<line x1="160.2" y1="376" x2="160.2" y2="677.8" stroke="#7272ee" stroke-width="0.9" stroke-dasharray="none"/>
<line x1="214.8" y1="376" x2="214.8" y2="677.8"/>
<line x1="65.5" y1="526.9" x2="324.3" y2="526.9"/>
</g>
<g clip-path="url(#clipc)" fill="none" stroke-linecap="round" stroke-linejoin="round">
<path d="M92.5,393.0 C94.1,392.7 98.8,391.6 102.0,391.0 C105.2,390.4 108.4,389.4 111.4,389.2 C114.4,389.0 117.5,389.5 120.0,389.8 C122.5,390.1 124.4,391.1 126.6,391.1 C128.8,391.1 130.8,390.6 133.0,390.0 C135.2,389.4 138.1,388.6 139.9,387.3 C141.7,386.0 142.7,383.6 144.0,382.0 C145.3,380.4 146.7,379.1 147.5,377.8 C148.3,376.5 148.8,374.6 149.0,374.0" stroke="#dc2a2a" stroke-width="1.9" stroke-dasharray="1.6,3.9" stroke-linecap="round"/>
<path d="M65.5,409.1 C68.4,409.0 76.9,409.0 83.0,408.2 C89.1,407.4 96.3,406.0 102.0,404.4 C107.7,402.8 113.0,400.0 117.1,398.7 C121.2,397.4 123.4,396.2 126.6,396.8 C129.8,397.4 132.6,400.3 136.1,402.5 C139.6,404.7 143.5,408.2 147.5,410.1 C151.5,412.0 156.2,414.1 160.0,413.8 C163.8,413.5 167.3,411.0 170.3,408.2 C173.3,405.4 175.4,400.6 177.9,396.8 C180.4,393.0 183.2,388.7 185.4,385.4 C187.6,382.1 189.9,378.7 191.1,376.8 C192.3,374.9 192.3,374.5 192.5,374.0" stroke="#dc2a2a" stroke-width="1.9" stroke-dasharray="1.6,3.9" stroke-linecap="round"/>
<path d="M65.5,409.1 C68.4,410.4 76.9,415.1 83.0,416.7 C89.1,418.3 95.7,418.5 102.0,418.6 C108.3,418.8 115.2,417.5 120.9,417.6 C126.6,417.8 131.7,418.6 136.1,419.5 C140.5,420.4 143.5,422.4 147.5,423.3 C151.5,424.2 156.2,426.1 160.0,425.2 C163.8,424.2 167.3,420.4 170.3,417.6 C173.3,414.8 175.7,410.2 177.9,408.2 C180.1,406.1 181.6,405.2 183.5,405.3 C185.4,405.4 187.2,406.9 189.4,409.0 C191.6,411.1 194.3,414.9 196.7,417.8 C199.1,420.7 201.6,424.2 204.0,426.6 C206.4,429.0 209.5,430.9 211.3,432.4 C213.1,433.8 213.3,435.2 215.0,435.3 C216.7,435.4 218.9,434.4 221.5,433.1 C224.1,431.8 227.1,429.1 230.3,427.3 C233.5,425.5 237.2,423.3 240.5,422.2 C243.8,421.1 246.5,420.9 250.0,420.5 C253.5,420.1 257.2,419.5 261.3,419.5 C265.4,419.5 270.0,420.6 274.4,420.6 C278.8,420.6 283.2,420.1 287.6,419.3 C292.0,418.5 296.3,417.2 300.7,416.0 C305.1,414.8 309.9,413.2 313.8,412.1 C317.7,411.0 322.6,409.9 324.3,409.5" stroke="#dc2a2a" stroke-width="1.9" stroke-dasharray="1.6,3.9" stroke-linecap="round"/>
<path d="M168.0,374.0 C168.4,374.3 168.7,374.3 170.3,375.9 C172.0,377.5 175.4,381.1 177.9,383.5 C180.4,385.9 182.8,388.8 185.4,390.0 C188.1,391.2 190.9,390.4 193.8,390.8 C196.7,391.2 199.7,391.5 202.6,392.2 C205.5,392.9 209.2,394.7 211.3,395.2 C213.4,395.7 213.1,395.6 215.0,395.2 C216.9,394.8 220.2,393.9 223.0,393.0 C225.8,392.1 228.9,391.2 231.8,390.1 C234.7,389.0 237.5,387.5 240.5,386.4 C243.5,385.3 247.6,384.2 250.0,383.5 C252.4,382.8 253.9,382.2 254.7,381.9" stroke="#dc2a2a" stroke-width="1.9" stroke-dasharray="1.6,3.9" stroke-linecap="round"/>
<path d="M279.7,399.0 C281.0,399.9 284.5,402.7 287.6,404.2 C290.7,405.7 294.6,407.3 298.1,408.2 C301.6,409.1 304.2,409.3 308.6,409.5 C313.0,409.7 321.7,409.5 324.3,409.5" stroke="#dc2a2a" stroke-width="1.9" stroke-dasharray="1.6,3.9" stroke-linecap="round"/>
<path d="M235.0,389.8 C236.8,388.9 242.2,385.8 245.5,384.5 C248.8,383.2 253.2,382.3 254.7,381.9" stroke="#dc2a2a" stroke-width="1.9" stroke-dasharray="1.6,3.9" stroke-linecap="round"/>
<path d="M65.5,530.5 C67.2,530.7 72.3,530.5 75.7,531.7 C79.1,532.9 82.5,535.0 85.9,537.5 C89.3,540.0 92.4,543.4 96.1,547.0 C99.8,550.6 103.9,555.8 107.8,559.4 C111.7,563.0 115.6,566.9 119.5,568.9 C123.4,570.9 127.1,571.1 131.2,571.4 C135.3,571.6 139.5,570.8 144.3,570.4 C149.1,570.0 155.6,570.0 160.2,568.9 C164.8,567.8 167.5,566.2 171.9,563.8 C176.3,561.4 181.6,557.7 186.5,554.3 C191.4,550.9 196.3,546.2 201.1,543.4 C205.8,540.6 210.6,537.4 215.0,537.5 C219.4,537.6 223.4,541.2 227.4,544.1 C231.4,547.0 236.0,552.5 239.0,555.0 C242.0,557.5 242.9,557.6 245.5,559.4 C248.1,561.2 251.6,564.5 254.7,566.0 C257.8,567.5 260.6,568.7 263.9,568.6 C267.2,568.5 270.9,567.5 274.4,565.3 C277.9,563.1 281.6,558.7 284.9,555.5 C288.2,552.3 291.0,549.4 294.1,546.3 C297.2,543.2 300.0,539.5 303.3,537.1 C306.6,534.7 310.4,533.0 313.8,531.8 C317.2,530.6 322.3,530.2 324.0,529.9" stroke="#dc2a2a" stroke-width="1.9" stroke-dasharray="1.6,3.9" stroke-linecap="round"/>
<path d="M189.4,600.0 C191.3,598.8 196.8,594.8 201.1,593.0 C205.4,591.2 210.6,589.4 215.0,589.3 C219.4,589.2 223.4,590.9 227.4,592.3 C231.4,593.6 235.6,595.6 239.0,597.4 C242.4,599.2 244.4,600.6 248.1,603.1 C251.8,605.6 256.9,609.4 261.3,612.3 C265.7,615.1 270.0,617.6 274.4,620.2 C278.8,622.8 283.9,625.9 287.6,628.1 C291.3,630.3 295.3,632.5 296.8,633.4" stroke="#dc2a2a" stroke-width="1.9" stroke-dasharray="1.6,3.9" stroke-linecap="round"/>
<path d="M65.5,611.2 C67.7,610.7 74.0,608.3 78.6,608.2 C83.2,608.1 88.3,609.0 93.2,610.4 C98.1,611.8 102.9,614.6 107.8,616.3 C112.7,618.0 117.5,619.9 122.4,620.7 C127.3,621.6 130.7,621.3 137.0,621.4 C143.3,621.5 154.4,620.8 160.2,621.4 C166.0,622.0 168.7,623.7 171.9,625.0 C175.1,626.3 176.8,627.0 179.2,629.4 C181.6,631.8 184.1,635.7 186.5,639.6 C188.9,643.5 191.4,648.6 193.8,652.8 C196.2,656.9 198.7,660.9 201.1,664.5 C203.5,668.1 206.9,672.5 208.4,674.7 C209.9,677.0 209.7,677.5 210.0,678.0" stroke="#dc2a2a" stroke-width="1.9" stroke-dasharray="1.6,3.9" stroke-linecap="round"/>
<path d="M65.5,611.2 C67.7,611.8 74.0,612.7 78.6,614.8 C83.2,616.9 88.8,620.2 93.2,623.6 C97.6,627.0 101.7,631.9 104.9,635.3 C108.1,638.7 109.3,641.1 112.2,644.0 C115.1,646.9 118.8,649.9 122.4,652.8 C126.1,655.7 130.2,659.1 134.1,661.5 C138.0,663.9 141.5,666.0 145.8,667.4 C150.2,668.8 157.8,669.2 160.2,669.6" stroke="#dc2a2a" stroke-width="1.9" stroke-dasharray="1.6,3.9" stroke-linecap="round"/>
<path d="M65.5,617.0 C67.7,617.5 74.0,617.9 78.6,620.0 C83.2,622.1 88.8,626.1 93.2,629.4 C97.6,632.7 101.7,636.7 104.9,640.0 C108.1,643.3 109.3,646.3 112.2,649.0 C115.1,651.7 118.8,653.5 122.4,656.0 C126.1,658.5 130.2,661.8 134.1,664.0 C138.0,666.2 141.5,668.3 145.8,669.5 C150.2,670.7 157.8,670.8 160.2,671.0" stroke="#dc2a2a" stroke-width="1.9" stroke-dasharray="1.6,3.9" stroke-linecap="round"/>
<path d="M85.9,652.8 C88.3,650.6 95.6,643.7 100.5,639.6 C105.4,635.5 111.0,631.4 115.1,628.0 C119.2,624.6 121.6,622.4 125.3,619.2 C128.9,616.0 133.1,611.8 137.0,609.0 C140.9,606.2 144.8,603.9 148.7,602.4 C152.6,600.9 156.8,600.0 160.2,600.2 C163.6,600.5 165.8,602.2 169.0,603.9 C172.2,605.6 176.0,607.4 179.2,610.4 C182.4,613.4 185.6,618.2 188.0,622.1 C190.4,626.0 191.6,629.4 193.8,633.8 C196.0,638.2 198.7,643.5 201.1,648.4 C203.5,653.3 206.1,658.6 208.4,663.0 C210.7,667.4 213.7,672.2 215.0,674.7 C216.3,677.2 215.8,677.5 216.0,678.0" stroke="#dc2a2a" stroke-width="1.9" stroke-dasharray="1.6,3.9" stroke-linecap="round"/>
<path d="M93.2,660.0 C95.6,658.1 102.9,651.3 107.8,648.4 C112.7,645.5 117.5,645.0 122.4,642.6 C127.3,640.2 132.6,636.2 137.0,633.8 C141.4,631.4 144.8,629.7 148.7,628.0 C152.6,626.3 156.3,625.1 160.2,623.6 C164.1,622.1 168.7,620.7 171.9,619.2 C175.1,617.7 176.8,616.5 179.2,614.8 C181.6,613.1 184.1,611.2 186.5,609.0 C188.9,606.8 190.9,604.1 193.8,601.7 C196.7,599.3 200.5,596.2 204.0,594.4 C207.5,592.6 213.2,591.3 215.0,590.7" stroke="#dc2a2a" stroke-width="1.9" stroke-dasharray="1.6,3.9" stroke-linecap="round"/>
<path d="M179.2,617.0 C181.6,616.9 187.8,616.5 193.8,616.3 C199.8,616.0 208.9,615.4 215.0,615.5 C221.1,615.6 224.5,616.0 230.3,617.0 C236.1,618.0 244.8,620.5 250.0,621.4 C255.2,622.3 257.2,621.7 261.3,622.2 C265.4,622.7 270.0,623.4 274.4,624.2 C278.8,625.0 283.2,626.6 287.6,626.8 C292.0,627.0 296.3,626.6 300.7,625.5 C305.1,624.4 309.9,621.5 313.8,620.2 C317.7,618.9 322.3,618.0 324.0,617.6" stroke="#dc2a2a" stroke-width="1.9" stroke-dasharray="1.6,3.9" stroke-linecap="round"/>
<path d="M160.2,668.8 C161.7,667.8 165.8,664.2 169.0,663.0 C172.2,661.8 175.5,661.5 179.2,661.5 C182.8,661.5 187.2,662.0 190.9,663.0 C194.6,664.0 197.7,665.4 201.1,667.4 C204.5,669.4 209.2,672.9 211.3,674.7 C213.5,676.5 213.6,677.5 214.0,678.0" stroke="#dc2a2a" stroke-width="1.9" stroke-dasharray="1.6,3.9" stroke-linecap="round"/>
<path d="M160.2,668.8 L166.1,678.0" stroke="#dc2a2a" stroke-width="1.9" stroke-dasharray="1.6,3.9" stroke-linecap="round"/>
<path d="M221.5,678.0 C223.0,676.0 227.1,670.1 230.3,665.9 C233.5,661.7 237.2,656.7 240.5,652.8 C243.8,648.9 246.5,646.3 250.0,642.6 C253.5,638.9 257.2,634.0 261.3,630.7 C265.4,627.4 270.0,625.3 274.4,622.9 C278.8,620.5 283.2,618.3 287.6,616.3 C292.0,614.3 296.3,612.3 300.7,611.0 C305.1,609.7 309.9,608.6 313.8,608.4 C317.7,608.2 322.3,609.5 324.0,609.7" stroke="#dc2a2a" stroke-width="1.9" stroke-dasharray="1.6,3.9" stroke-linecap="round"/>
<path d="M268.0,619.5 C269.8,618.6 275.2,615.7 279.0,614.0 C282.8,612.3 286.8,610.4 290.7,609.3 C294.6,608.2 298.9,607.7 302.4,607.6 C305.9,607.5 308.0,608.2 311.7,608.8 C315.4,609.4 322.2,610.7 324.3,611.1" stroke="#dc2a2a" stroke-width="1.9" stroke-dasharray="1.6,3.9" stroke-linecap="round"/>
<path d="M235.0,663.6 C236.8,661.9 241.1,655.7 245.5,653.1 C249.9,650.5 256.5,648.5 261.3,647.8 C266.1,647.1 270.9,648.5 274.4,649.1 C277.9,649.7 279.4,651.5 282.3,651.1 C285.2,650.7 288.4,646.4 291.5,646.5 C294.6,646.6 297.0,649.6 300.7,651.8 C304.4,654.0 309.9,657.6 313.8,659.6 C317.7,661.6 322.3,662.9 324.0,663.6" stroke="#dc2a2a" stroke-width="1.9" stroke-dasharray="1.6,3.9" stroke-linecap="round"/>
<path d="M269.2,678.0 C270.5,675.2 274.4,664.9 277.0,661.0 C279.6,657.1 282.0,655.1 284.9,654.4 C287.8,653.7 290.8,655.2 294.1,657.0 C297.5,658.8 301.5,662.5 305.0,665.0 C308.5,667.5 313.3,670.8 315.0,672.0" stroke="#dc2a2a" stroke-width="1.9" stroke-dasharray="1.6,3.9" stroke-linecap="round"/>
<path d="M65.5,655.7 C67.9,656.8 75.9,659.6 80.0,662.0 C84.1,664.4 87.1,667.3 90.0,670.0 C92.9,672.7 96.3,676.7 97.6,678.0" stroke="#dc2a2a" stroke-width="1.9" stroke-dasharray="1.6,3.9" stroke-linecap="round"/>
<path d="M65.5,665.0 C67.1,665.8 72.2,667.8 75.0,670.0 C77.8,672.2 80.8,676.7 82.0,678.0" stroke="#dc2a2a" stroke-width="1.9" stroke-dasharray="1.6,3.9" stroke-linecap="round"/>
<path d="M65.5,660.0 C66.6,661.3 70.2,665.0 72.0,668.0 C73.8,671.0 75.3,676.3 76.0,678.0" stroke="#dc2a2a" stroke-width="1.9" stroke-dasharray="1.6,3.9" stroke-linecap="round"/>
<path d="M295.0,678.0 C296.7,675.8 301.7,668.0 305.0,665.0 C308.3,662.0 311.8,661.7 315.0,660.0 C318.2,658.3 322.5,655.8 324.0,655.0" stroke="#dc2a2a" stroke-width="1.9" stroke-dasharray="1.6,3.9" stroke-linecap="round"/>
<path d="M305.0,678.0 C306.2,676.3 308.8,670.7 312.0,668.0 C315.2,665.3 322.0,663.0 324.0,662.0" stroke="#dc2a2a" stroke-width="1.9" stroke-dasharray="1.6,3.9" stroke-linecap="round"/>
<path d="M315.0,678.0 C315.8,676.7 318.5,671.7 320.0,670.0 C321.5,668.3 323.3,668.3 324.0,668.0" stroke="#dc2a2a" stroke-width="1.9" stroke-dasharray="1.6,3.9" stroke-linecap="round"/>
<path d="M65.5,413.8 C67.8,412.9 74.7,411.0 79.2,408.2 C83.7,405.4 88.7,400.6 92.5,396.8 C96.3,393.0 99.4,388.4 102.0,385.4 C104.6,382.4 106.4,380.5 108.0,379.0 C109.6,377.5 110.3,376.3 111.4,376.3 C112.5,376.3 112.9,377.2 114.5,379.0 C116.1,380.8 118.2,384.7 120.9,387.3 C123.6,389.9 127.2,393.2 130.4,394.9 C133.6,396.6 136.7,397.4 139.9,397.7 C143.1,398.0 146.1,397.6 149.4,396.8 C152.8,396.0 156.5,394.3 160.0,393.0 C163.5,391.7 166.7,390.8 170.3,389.2 C173.9,387.6 178.4,385.6 181.6,383.5 C184.8,381.4 187.8,378.1 189.4,376.5 C191.0,374.9 190.7,374.4 191.0,374.0" stroke="#222" stroke-width="1.8"/>
<path d="M65.5,413.8 C68.4,414.9 76.9,419.1 83.0,420.5 C89.1,421.9 96.3,422.2 102.0,422.4 C107.7,422.5 113.3,421.2 117.1,421.4 C120.9,421.5 121.5,421.7 124.7,423.3 C127.9,424.9 132.0,428.4 136.1,430.9 C140.2,433.4 145.4,436.0 149.4,438.5 C153.4,441.0 156.7,445.7 160.0,446.0 C163.3,446.3 165.8,443.5 169.0,440.4 C172.2,437.3 176.0,430.3 179.2,427.3 C182.4,424.3 184.8,422.9 188.0,422.2 C191.2,421.5 193.7,422.5 198.2,422.9 C202.7,423.3 210.1,424.4 215.0,424.4 C219.9,424.4 223.4,423.6 227.4,422.9 C231.4,422.2 235.6,421.4 239.0,420.0 C242.4,418.6 244.4,416.1 248.1,414.7 C251.8,413.3 257.4,411.9 261.3,411.5 C265.2,411.1 268.3,411.4 271.8,412.1 C275.3,412.9 278.8,414.6 282.3,416.0 C285.8,417.4 289.3,419.5 292.8,420.6 C296.3,421.7 299.8,422.8 303.3,422.6 C306.8,422.4 310.3,420.7 313.8,419.3 C317.3,417.9 322.6,415.0 324.3,414.1" stroke="#222" stroke-width="1.8"/>
<path d="M65.5,434.7 C68.4,434.7 76.9,434.8 83.0,434.7 C89.1,434.6 95.7,434.8 102.0,433.8 C108.3,432.9 115.2,431.4 120.9,429.0 C126.6,426.6 131.3,423.3 136.1,419.5 C140.8,415.7 145.4,409.9 149.4,406.3 C153.4,402.7 157.0,399.0 160.0,398.1 C163.0,397.2 165.0,399.2 167.5,401.0 C170.0,402.8 172.4,406.6 174.8,409.0 C177.2,411.4 179.9,415.1 182.1,415.6 C184.3,416.1 185.8,414.1 188.0,412.0 C190.2,409.9 192.6,406.4 195.3,403.2 C198.0,400.0 200.7,395.8 204.0,393.0 C207.3,390.2 211.8,386.9 215.0,386.4 C218.2,385.9 220.2,388.5 223.0,390.1 C225.8,391.7 228.9,394.5 232.0,395.8 C235.1,397.1 238.6,397.1 241.4,397.7 C244.2,398.3 246.5,398.5 249.0,399.6 C251.5,400.7 254.1,402.7 256.6,404.4 C259.1,406.1 261.4,407.6 264.2,410.0 C267.0,412.4 270.2,415.8 273.7,418.6 C277.2,421.5 281.3,424.7 285.1,427.1 C288.9,429.5 292.7,431.5 296.5,432.8 C300.3,434.1 303.3,434.4 307.9,434.7 C312.5,435.0 321.6,434.9 324.3,434.9" stroke="#222" stroke-width="1.8"/>
<path d="M65.5,434.7 C68.4,436.0 76.9,440.7 83.0,442.3 C89.1,443.9 95.7,444.0 102.0,444.2 C108.3,444.4 114.6,443.0 120.9,443.3 C127.2,443.6 135.1,444.8 139.9,446.1 C144.8,447.4 146.7,449.4 150.0,451.0 C153.3,452.6 156.8,455.8 160.0,455.5 C163.2,455.2 166.3,452.2 169.0,449.2 C171.7,446.2 173.8,440.7 176.3,437.5 C178.9,434.3 181.9,430.4 184.3,430.2 C186.7,430.0 188.1,433.2 190.9,436.1 C193.7,439.0 198.2,444.9 201.1,447.7 C204.0,450.5 206.1,451.6 208.4,452.8 C210.7,454.0 212.3,455.2 215.0,454.7 C217.7,454.2 221.0,451.8 224.4,449.9 C227.8,448.0 231.9,444.7 235.7,443.3 C239.5,441.9 243.0,441.4 247.1,441.4 C251.2,441.4 256.0,442.7 260.4,443.3 C264.8,443.9 268.9,444.9 273.7,445.2 C278.4,445.5 284.5,445.5 288.9,445.2 C293.3,444.9 296.5,444.2 300.3,443.3 C304.1,442.4 307.6,440.9 311.6,439.5 C315.6,438.1 322.2,435.7 324.3,434.9" stroke="#222" stroke-width="1.8"/>
<path d="M299.4,399.6 C300.5,400.6 303.6,403.6 306.0,405.5 C308.4,407.4 310.8,409.4 313.8,410.8 C316.9,412.2 322.6,413.6 324.3,414.1" stroke="#222" stroke-width="1.8"/>
<path d="M312.5,399.6 C313.4,400.4 315.8,403.0 317.8,404.2 C319.8,405.4 323.2,406.4 324.3,406.9" stroke="#222" stroke-width="1.8"/>
<path d="M316.5,399.0 C317.1,399.6 319.1,401.2 320.4,402.3 C321.7,403.4 323.6,405.0 324.3,405.5" stroke="#222" stroke-width="1.8"/>
<path d="M65.5,403.0 C66.1,402.7 67.8,401.8 69.0,401.0 C70.2,400.2 72.3,398.9 73.0,398.5" stroke="#222" stroke-width="1.8"/>
<path d="M65.5,406.0 C66.2,405.7 68.6,404.9 70.0,404.0 C71.4,403.1 73.3,401.1 74.0,400.5" stroke="#222" stroke-width="1.8"/>
<path d="M88.0,380.0 C88.7,379.5 90.8,377.9 92.0,376.9 C93.2,375.9 94.5,374.5 95.0,374.0" stroke="#222" stroke-width="1.8"/>
<path d="M90.0,380.5 C90.7,379.9 92.8,378.1 94.0,377.0 C95.2,375.9 96.5,374.5 97.0,374.0" stroke="#222" stroke-width="1.8"/>
<path d="M65.5,529.9 C67.2,530.1 72.3,530.1 75.7,530.9 C79.1,531.7 82.5,532.5 85.9,534.6 C89.3,536.7 92.4,540.0 96.1,543.4 C99.8,546.8 103.9,551.7 107.8,555.0 C111.7,558.3 115.8,561.4 119.5,563.1 C123.2,564.9 125.6,565.3 129.7,565.5 C133.8,565.7 139.2,564.8 144.3,564.5 C149.4,564.2 155.6,564.6 160.2,563.8 C164.8,562.9 167.5,561.6 171.9,559.4 C176.3,557.2 181.6,553.6 186.5,550.7 C191.4,547.8 196.3,544.1 201.1,541.9 C205.8,539.7 210.6,537.2 215.0,537.5 C219.4,537.8 223.7,541.1 227.4,543.4 C231.1,545.7 234.0,549.1 237.0,551.5 C240.0,553.9 242.6,555.8 245.5,557.5 C248.4,559.2 251.6,560.9 254.7,562.0 C257.8,563.1 260.6,564.2 263.9,564.0 C267.2,563.8 270.9,562.8 274.4,560.7 C277.9,558.6 281.6,554.6 284.9,551.5 C288.2,548.4 291.0,545.1 294.1,542.3 C297.2,539.5 300.2,536.5 303.3,534.5 C306.4,532.5 309.1,531.3 312.5,530.5 C315.9,529.7 322.1,529.7 324.0,529.5" stroke="#222" stroke-width="1.8"/>
<path d="M65.5,601.7 C67.2,601.1 72.3,598.9 75.7,598.0 C79.1,597.1 81.8,596.5 85.9,596.6 C90.0,596.7 95.6,597.7 100.5,598.8 C105.4,599.9 110.2,601.9 115.1,603.1 C120.0,604.3 124.6,605.5 129.7,606.1 C134.8,606.7 140.7,606.7 145.8,606.8 C150.9,606.9 155.8,606.6 160.2,606.8 C164.5,607.0 168.7,607.1 171.9,608.2 C175.1,609.3 176.8,610.8 179.2,613.4 C181.6,616.0 184.1,619.7 186.5,623.6 C188.9,627.5 191.4,632.1 193.8,636.7 C196.2,641.3 198.7,647.2 201.1,651.3 C203.5,655.4 206.1,659.2 208.4,661.5 C210.7,663.8 212.6,665.2 215.0,665.2 C217.4,665.2 219.7,664.3 223.0,661.5 C226.3,658.7 231.3,652.3 234.7,648.4 C238.1,644.5 240.8,640.4 243.4,638.2 C246.0,636.0 248.9,635.8 250.0,635.3" stroke="#222" stroke-width="1.8"/>
<path d="M65.5,601.7 C67.7,602.1 74.0,602.2 78.6,603.9 C83.2,605.6 88.8,608.9 93.2,611.9 C97.6,614.9 101.2,618.9 104.9,622.1 C108.6,625.3 111.7,628.2 115.1,630.9 C118.5,633.6 121.6,635.8 125.3,638.2 C128.9,640.6 133.1,643.5 137.0,645.5 C140.9,647.5 144.8,648.9 148.7,649.9 C152.6,650.9 158.3,651.1 160.2,651.3" stroke="#222" stroke-width="1.8"/>
<path d="M65.5,603.0 C67.7,603.4 74.0,603.8 78.6,605.5 C83.2,607.2 88.8,610.4 93.2,613.5 C97.6,616.6 101.2,620.8 104.9,624.0 C108.6,627.2 111.4,629.6 115.1,632.5 C118.8,635.4 123.1,638.5 126.8,641.1 C130.4,643.8 133.3,646.7 137.0,648.4 C140.7,650.1 144.8,650.8 148.7,651.5 C152.6,652.2 156.8,653.6 160.2,652.8 C163.6,652.0 165.8,648.2 169.0,646.9 C172.2,645.5 175.5,644.8 179.2,644.7 C182.8,644.6 187.2,645.1 190.9,646.2 C194.6,647.3 198.2,649.8 201.1,651.3 C204.0,652.8 206.1,654.0 208.4,655.0 C210.7,656.0 212.6,657.3 215.0,657.2 C217.4,657.1 219.7,656.6 223.0,654.2 C226.3,651.8 231.3,646.2 234.7,642.6 C238.1,639.0 240.8,635.2 243.4,632.3 C246.0,629.4 247.0,627.7 250.0,625.0 C253.0,622.3 257.9,619.2 261.3,616.3 C264.7,613.4 267.2,610.3 270.5,607.7 C273.8,605.1 277.1,602.4 281.0,600.5 C284.9,598.6 289.7,597.1 294.1,596.6 C298.5,596.1 303.6,596.7 307.3,597.2 C311.0,597.8 313.7,599.0 316.5,599.9 C319.3,600.8 322.8,602.1 324.0,602.5" stroke="#222" stroke-width="1.8"/>
<path d="M65.5,641.1 C67.7,641.0 74.0,641.4 78.6,640.4 C83.2,639.4 88.3,637.9 93.2,635.3 C98.1,632.7 102.9,629.4 107.8,625.0 C112.7,620.6 118.7,613.0 122.4,609.0 C126.1,605.0 127.0,603.5 130.0,601.0 C133.0,598.5 136.8,596.1 140.2,594.3 C143.6,592.5 147.1,591.2 150.4,590.3 C153.7,589.4 157.5,588.8 160.1,589.0 C162.7,589.2 164.0,590.2 165.8,591.3 C167.6,592.4 169.2,594.1 170.9,595.4 C172.6,596.7 174.3,598.0 176.0,598.9 C177.7,599.8 179.2,600.5 181.1,601.0 C183.0,601.5 184.0,602.1 187.2,602.0 C190.3,601.9 195.4,600.9 200.0,600.5 C204.6,600.1 209.9,599.3 215.0,599.5 C220.1,599.7 224.5,600.5 230.3,601.7 C236.1,602.9 244.8,605.5 250.0,606.8 C255.2,608.1 257.7,608.8 261.3,609.7 C264.9,610.6 268.5,611.6 271.8,612.3 C275.1,613.0 277.7,613.4 281.0,613.7 C284.3,614.0 288.2,614.4 291.5,614.3 C294.8,614.2 297.4,614.2 300.7,613.0 C304.0,611.8 307.3,608.8 311.2,607.1 C315.1,605.5 321.9,603.8 324.0,603.1" stroke="#222" stroke-width="1.8"/>
<path d="M65.5,652.8 C67.7,652.3 74.0,651.8 78.6,649.9 C83.2,648.0 88.3,644.0 93.2,641.1 C98.1,638.2 102.9,635.0 107.8,632.3 C112.7,629.6 118.7,627.5 122.4,625.0 C126.1,622.5 127.0,619.5 130.0,617.3 C133.0,615.1 136.8,613.3 140.2,611.7 C143.6,610.1 147.1,608.5 150.4,607.6 C153.7,606.8 157.5,606.9 160.1,606.6 C162.7,606.3 164.0,606.3 165.8,605.6 C167.6,604.9 169.2,603.7 170.9,602.5 C172.6,601.3 174.0,600.3 176.0,598.4 C178.0,596.5 180.5,593.7 183.1,591.3 C185.7,588.9 188.5,586.1 191.3,584.1 C194.1,582.1 196.1,580.7 200.0,579.5 C203.9,578.3 210.4,576.8 215.0,576.9 C219.6,577.0 223.4,578.2 227.4,579.9 C231.4,581.6 236.0,585.5 239.0,587.2 C242.0,588.9 242.9,588.4 245.5,590.0 C248.1,591.6 251.4,594.2 254.7,596.6 C258.0,599.0 261.9,602.1 265.2,604.5 C268.5,606.9 271.1,608.6 274.4,611.0 C277.7,613.4 282.3,616.3 284.9,618.9 C287.5,621.5 288.2,624.4 290.2,626.8 C292.2,629.2 294.4,631.4 296.8,633.4 C299.2,635.4 301.8,637.4 304.6,638.6 C307.4,639.8 310.6,640.3 313.8,640.6 C317.0,640.9 322.3,640.6 324.0,640.6" stroke="#222" stroke-width="1.8"/>
<path d="M68.4,600.0 C70.8,599.4 78.4,596.8 83.0,596.6 C87.6,596.4 93.9,598.4 96.1,598.8" stroke="#222" stroke-width="1.8"/>
<path d="M282.3,600.0 C284.3,599.5 289.9,597.4 294.1,596.9 C298.3,596.4 303.1,596.5 307.3,596.9 C311.5,597.3 316.3,598.8 319.1,599.5 C321.9,600.2 323.2,600.8 324.0,601.0" stroke="#222" stroke-width="1.8"/>
<path d="M160.2,652.8 C161.7,654.5 166.3,659.8 169.0,663.0 C171.7,666.2 174.4,669.3 176.3,671.8 C178.2,674.3 180.0,677.0 180.7,678.0" stroke="#222" stroke-width="1.8"/>
<path d="M208.4,678.0 C209.5,677.6 212.8,675.4 215.0,675.4 C217.2,675.4 220.4,677.6 221.5,678.0" stroke="#222" stroke-width="1.8"/>
<path d="M235.0,647.8 C237.2,645.7 243.7,637.9 248.1,635.0 C252.5,632.1 256.9,631.2 261.3,630.7 C265.7,630.2 270.0,630.9 274.4,632.0 C278.8,633.1 283.2,635.9 287.6,637.3 C292.0,638.7 296.3,640.0 300.7,640.6 C305.1,641.2 309.9,641.1 313.8,641.2 C317.7,641.3 322.3,641.0 324.0,641.0" stroke="#222" stroke-width="1.8"/>
<path d="M258.7,678.0 C260.2,675.6 264.8,668.4 267.9,663.6 C270.9,658.8 274.2,653.7 277.0,649.1 C279.8,644.5 282.3,640.1 284.9,636.0 C287.5,631.9 290.2,627.9 292.8,624.2 C295.4,620.5 298.1,616.6 300.7,613.7 C303.3,610.9 306.0,608.8 308.6,607.1 C311.2,605.5 313.9,604.6 316.5,603.8 C319.1,603.0 322.8,602.7 324.0,602.5" stroke="#222" stroke-width="1.8"/>
<path d="M275.7,678.0 C277.7,675.8 283.4,668.8 287.6,664.9 C291.8,661.0 296.3,657.2 300.7,654.4 C305.1,651.5 309.9,649.3 313.8,647.8 C317.7,646.3 322.3,645.6 324.0,645.2" stroke="#222" stroke-width="1.8"/>
<path d="M281.0,678.0 C283.2,675.6 289.7,667.8 294.1,663.6 C298.5,659.5 302.3,656.0 307.3,653.1 C312.3,650.2 321.2,647.6 324.0,646.5" stroke="#222" stroke-width="1.8"/>
<path d="M290.2,678.0 C291.9,675.8 297.2,668.6 300.7,664.9 C304.2,661.2 307.3,658.3 311.2,655.7 C315.1,653.1 321.9,650.2 324.0,649.1" stroke="#222" stroke-width="1.8"/>
<path d="M302.0,678.0 C303.1,675.8 306.2,668.6 308.6,664.9 C311.0,661.2 313.9,657.9 316.5,655.7 C319.1,653.5 322.8,652.4 324.0,651.8" stroke="#222" stroke-width="1.8"/>
<path d="M65.5,642.6 C67.2,643.6 72.8,645.7 75.7,648.4 C78.6,651.1 81.0,653.7 83.0,658.6 C85.0,663.5 86.7,674.8 87.4,678.0" stroke="#222" stroke-width="1.8"/>
<path d="M65.5,645.0 C67.6,646.2 74.6,648.8 78.0,652.0 C81.4,655.2 83.7,659.7 86.0,664.0 C88.3,668.3 90.8,675.7 91.7,678.0" stroke="#222" stroke-width="1.8"/>
<path d="M65.5,646.0 C68.9,647.4 80.1,651.6 85.9,654.2 C91.7,656.8 96.1,658.8 100.5,661.5 C104.9,664.2 108.8,667.5 112.2,670.3 C115.6,673.0 119.5,676.7 120.9,678.0" stroke="#222" stroke-width="1.8"/>
</g>
<g stroke="#2a2a55" stroke-width="1.3"><line x1="65.5" y1="376.0" x2="72.5" y2="376.0"/><line x1="324.3" y1="376.0" x2="317.3" y2="376.0"/><line x1="65.5" y1="451.4" x2="72.5" y2="451.4"/><line x1="324.3" y1="451.4" x2="317.3" y2="451.4"/><line x1="65.5" y1="526.9" x2="72.5" y2="526.9"/><line x1="324.3" y1="526.9" x2="317.3" y2="526.9"/><line x1="65.5" y1="602.3" x2="72.5" y2="602.3"/><line x1="324.3" y1="602.3" x2="317.3" y2="602.3"/><line x1="65.5" y1="677.8" x2="72.5" y2="677.8"/><line x1="324.3" y1="677.8" x2="317.3" y2="677.8"/><line x1="65.5" y1="413.7" x2="69.5" y2="413.7"/><line x1="324.3" y1="413.7" x2="320.3" y2="413.7"/><line x1="65.5" y1="489.2" x2="69.5" y2="489.2"/><line x1="324.3" y1="489.2" x2="320.3" y2="489.2"/><line x1="65.5" y1="564.6" x2="69.5" y2="564.6"/><line x1="324.3" y1="564.6" x2="320.3" y2="564.6"/><line x1="65.5" y1="640.1" x2="69.5" y2="640.1"/><line x1="324.3" y1="640.1" x2="320.3" y2="640.1"/></g>
<line x1="65.5" y1="376" x2="324.3" y2="376" stroke="#222" stroke-width="1.9"/>
<line x1="65.5" y1="677.8" x2="324.3" y2="677.8" stroke="#222" stroke-width="1.9"/>
<line x1="65.5" y1="376" x2="65.5" y2="677.8" stroke="#3a3a6a" stroke-width="1.9"/>
<line x1="324.3" y1="376" x2="324.3" y2="677.8" stroke="#3a3a6a" stroke-width="1.9"/>
<text x="58.7" y="381.6" text-anchor="end" class="yl">5.0</text>
<text x="58.7" y="457.1" text-anchor="end" class="yl">2.5</text>
<text x="58.7" y="532.5" text-anchor="end" class="yl">0.0</text>
<text x="58.7" y="607.9" text-anchor="end" class="yl">-2.5</text>
<text x="58.7" y="683.4" text-anchor="end" class="yl">-5.0</text>
<text x="65.8" y="699.3" text-anchor="start" class="xl">Γ</text>
<text x="158.5" y="699.3" text-anchor="middle" class="xl">M</text>
<text x="216.3" y="699.3" text-anchor="middle" class="xl">K</text>
<text x="324.6" y="699.3" text-anchor="end" class="xl">Γ</text>
<line x1="66.0" y1="366.7" x2="104.0" y2="366.7" stroke="#222" stroke-width="1.9"/>
<text x="107.8" y="372.2" class="lg">PBE</text>
<line x1="244.3" y1="366.7" x2="282.3" y2="366.7" stroke="#e0282a" stroke-width="1.9" stroke-dasharray="3.5,2"/>
<text x="318.7" y="372.2" text-anchor="end" class="lg">HSE</text>
<rect x="256" y="377" width="67.30000000000001" height="22.5" fill="#fff"/>
<rect x="67.0" y="380" width="22.5" height="20" fill="#fff"/>
<text x="69.8" y="395.3" class="pl">(c)</text>
<text x="320.40000000000003" y="395.4" text-anchor="end" class="nm">WSi<tspan class="sm">2</tspan>N<tspan class="sm">4</tspan></text>
<clipPath id="clipd"><rect x="424.1" y="376.3" width="258.4" height="301.49999999999994"/></clipPath>
<g stroke="#8080f0" stroke-width="1" stroke-dasharray="2.6,2.2" fill="none">
<line x1="518.7" y1="376.3" x2="518.7" y2="677.8" stroke="#9898f6" stroke-width="1.3" stroke-dasharray="none"/>
<line x1="573.2" y1="376.3" x2="573.2" y2="677.8"/>
<line x1="424.1" y1="527.0" x2="682.5" y2="527.0"/>
</g>
<g clip-path="url(#clipd)" fill="none" stroke-linecap="round" stroke-linejoin="round">
<path d="M449.7,394.4 C450.7,393.2 453.9,389.5 455.6,387.1 C457.3,384.7 458.3,381.6 460.0,379.8 C461.7,378.0 464.6,377.2 465.8,376.2 C467.0,375.2 466.8,374.4 467.0,374.0" stroke="#dc2a2a" stroke-width="1.9" stroke-dasharray="1.6,3.9" stroke-linecap="round"/>
<path d="M467.0,374.0 C467.3,374.4 466.9,374.7 468.7,376.2 C470.4,377.7 474.6,380.0 477.5,382.8 C480.4,385.6 483.3,389.6 486.2,393.0 C489.1,396.4 492.1,400.5 495.0,403.2 C497.9,405.9 500.9,407.7 503.8,409.0 C506.7,410.3 510.0,410.8 512.5,411.2 C515.0,411.6 517.2,411.4 518.8,411.2 C520.4,411.0 520.5,410.9 522.0,409.8 C523.5,408.7 524.6,406.2 527.5,404.7 C530.4,403.2 535.8,401.9 539.2,401.0 C542.6,400.1 544.8,399.6 548.0,399.5 C551.2,399.4 554.0,400.2 558.2,400.3 C562.5,400.4 569.4,399.9 573.5,400.3 C577.6,400.7 579.4,402.2 583.0,402.5 C586.6,402.8 590.8,401.8 595.0,402.3 C599.2,402.8 603.7,403.9 608.1,405.5 C612.5,407.1 616.9,409.9 621.3,412.1 C625.7,414.3 630.0,417.2 634.4,418.7 C638.8,420.2 643.6,421.1 647.6,421.3 C651.6,421.5 654.6,420.6 658.1,420.0 C661.6,419.4 664.5,418.6 668.6,418.0 C672.7,417.4 680.2,416.9 682.5,416.7" stroke="#dc2a2a" stroke-width="1.9" stroke-dasharray="1.6,3.9" stroke-linecap="round"/>
<path d="M424.0,417.1 C426.1,417.5 432.1,418.7 436.6,419.3 C441.1,419.9 446.3,420.4 451.2,420.7 C456.1,421.0 460.9,421.6 465.8,421.4 C470.7,421.2 475.5,420.4 480.4,419.3 C485.3,418.2 490.1,416.4 495.0,414.9 C499.9,413.4 505.6,411.4 509.6,410.5 C513.6,409.6 516.3,409.1 518.8,409.8 C521.3,410.5 522.4,413.1 524.6,414.9 C526.8,416.7 529.5,420.5 531.9,420.7 C534.3,420.9 536.5,418.5 539.2,416.3 C541.9,414.1 544.8,409.8 548.0,407.6 C551.2,405.4 554.0,404.3 558.2,403.2 C562.5,402.1 568.9,401.0 573.5,401.0 C578.1,401.0 581.9,401.9 585.9,403.2 C589.9,404.5 593.9,407.7 597.6,409.0 C601.3,410.3 604.2,409.9 608.1,410.8 C612.0,411.8 616.9,412.7 621.3,414.7 C625.7,416.7 630.0,420.2 634.4,422.6 C638.8,425.0 644.1,427.4 647.6,429.2 C651.1,430.9 653.0,432.0 655.4,433.1 C657.8,434.2 660.0,435.1 662.0,436.0 C664.0,436.9 663.9,436.8 667.3,438.4 C670.7,440.0 680.0,444.4 682.5,445.6" stroke="#dc2a2a" stroke-width="1.9" stroke-dasharray="1.6,3.9" stroke-linecap="round"/>
<path d="M424.0,409.8 C425.1,409.6 428.2,409.2 430.8,408.3 C433.4,407.4 437.1,405.7 439.5,404.7 C441.9,403.7 444.4,402.9 445.4,402.5" stroke="#dc2a2a" stroke-width="1.9" stroke-dasharray="1.6,3.9" stroke-linecap="round"/>
<path d="M424.0,416.5 C425.1,416.0 428.2,414.6 430.8,413.4 C433.4,412.1 437.3,410.2 439.5,409.0 C441.7,407.8 443.2,406.5 444.0,406.0" stroke="#dc2a2a" stroke-width="1.9" stroke-dasharray="1.6,3.9" stroke-linecap="round"/>
<path d="M518.8,430.2 C520.2,430.2 524.8,429.9 527.5,430.2 C530.2,430.4 532.8,430.7 534.8,431.7 C536.8,432.7 537.5,434.2 539.2,436.1 C540.9,438.1 543.5,441.1 545.0,443.4 C546.5,445.7 546.5,447.2 548.2,450.0 C549.9,452.8 552.9,457.1 555.3,460.2 C557.7,463.3 560.1,466.0 562.5,468.4 C564.9,470.8 567.7,473.1 569.6,474.5 C571.5,475.9 572.2,477.0 573.7,476.8 C575.2,476.6 576.8,474.9 578.8,473.5 C580.8,472.1 583.5,470.6 586.0,468.4 C588.5,466.2 591.4,463.1 594.1,460.2 C596.8,457.3 600.0,453.3 602.3,451.0 C604.6,448.7 604.8,447.8 608.0,446.5 C611.2,445.2 616.9,443.4 621.3,443.0 C625.7,442.6 630.0,443.7 634.4,444.3 C638.8,444.9 643.2,446.0 647.6,446.9 C652.0,447.8 656.3,449.4 660.7,449.6 C665.1,449.8 670.2,448.6 673.8,448.3 C677.4,448.0 681.0,447.7 682.5,447.6" stroke="#dc2a2a" stroke-width="1.9" stroke-dasharray="1.6,3.9" stroke-linecap="round"/>
<path d="M495.0,376.2 C496.9,376.3 502.7,376.5 506.7,376.9 C510.7,377.3 515.3,377.9 518.8,378.4 C522.3,378.9 524.6,379.3 527.5,379.8 C530.4,380.3 533.6,381.5 536.3,381.3 C539.0,381.1 541.4,379.2 543.6,378.4 C545.8,377.5 548.2,376.9 549.4,376.2 C550.6,375.5 550.7,374.4 551.0,374.0" stroke="#dc2a2a" stroke-width="1.9" stroke-dasharray="1.6,3.9" stroke-linecap="round"/>
<path d="M518.8,431.0 C520.5,429.8 526.1,426.5 529.0,423.6 C531.9,420.7 533.9,418.5 536.3,413.4 C538.7,408.3 541.6,398.4 543.6,393.0 C545.6,387.6 546.8,384.1 548.0,381.3 C549.2,378.5 550.2,377.4 550.9,376.2 C551.6,375.0 551.8,374.4 552.0,374.0" stroke="#dc2a2a" stroke-width="1.9" stroke-dasharray="1.6,3.9" stroke-linecap="round"/>
<path d="M424.0,446.3 C425.6,446.7 430.4,447.9 433.7,448.5 C437.0,449.1 439.8,450.0 443.9,449.9 C448.0,449.8 453.6,448.7 458.5,447.7 C463.4,446.7 468.2,445.3 473.1,444.1 C478.0,442.9 482.8,441.4 487.7,440.4 C492.6,439.4 497.1,438.8 502.3,438.2 C507.5,437.6 515.1,437.6 518.8,437.0 C522.5,436.4 522.4,436.5 524.6,434.6 C526.8,432.7 530.2,428.2 531.9,425.8 C533.6,423.4 533.9,422.0 534.8,420.0 C535.6,418.0 536.6,415.0 537.0,414.0" stroke="#dc2a2a" stroke-width="1.9" stroke-dasharray="1.6,3.9" stroke-linecap="round"/>
<path d="M424.0,446.3 C425.6,445.8 430.4,444.8 433.7,443.4 C437.0,442.0 439.8,439.9 443.9,438.2 C448.0,436.5 453.6,434.7 458.5,433.1 C463.4,431.5 469.0,429.9 473.1,428.8 C477.2,427.7 480.1,427.0 483.3,426.6 C486.5,426.2 488.9,426.1 492.1,426.6 C495.3,427.1 498.9,428.9 502.3,429.5 C505.7,430.1 509.8,430.0 512.5,430.2 C515.2,430.4 517.8,430.4 518.8,430.5" stroke="#dc2a2a" stroke-width="1.9" stroke-dasharray="1.6,3.9" stroke-linecap="round"/>
<path d="M659.4,400.9 C660.5,401.4 663.6,403.0 666.0,404.2 C668.4,405.4 671.0,407.3 673.8,408.2 C676.5,409.1 681.0,409.3 682.5,409.5" stroke="#dc2a2a" stroke-width="1.9" stroke-dasharray="1.6,3.9" stroke-linecap="round"/>
<path d="M666.0,401.0 C666.8,401.8 669.2,404.2 671.0,405.5 C672.8,406.8 675.1,407.9 677.0,409.0 C678.9,410.1 681.6,411.6 682.5,412.1" stroke="#dc2a2a" stroke-width="1.9" stroke-dasharray="1.6,3.9" stroke-linecap="round"/>
<path d="M424.0,535.3 C425.6,535.2 430.4,534.2 433.7,534.6 C437.0,535.0 440.5,535.8 443.9,537.5 C447.3,539.2 450.5,541.4 454.1,544.8 C457.8,548.2 461.9,553.6 465.8,558.0 C469.7,562.4 473.6,567.8 477.5,571.1 C481.4,574.4 485.1,576.5 489.2,577.7 C493.3,578.9 497.4,578.4 502.3,578.4 C507.2,578.4 513.9,578.4 518.8,577.7 C523.7,577.0 527.3,576.1 531.9,574.0 C536.5,571.9 541.6,568.2 546.5,565.3 C551.4,562.4 556.6,558.8 561.1,556.5 C565.6,554.2 569.4,551.5 573.5,551.4 C577.6,551.3 581.9,553.5 585.9,555.8 C589.9,558.1 594.3,562.5 597.6,565.3 C600.9,568.1 602.2,570.6 605.5,572.6 C608.8,574.6 613.3,577.2 617.3,577.2 C621.2,577.2 625.2,575.1 629.2,572.6 C633.2,570.1 637.3,566.0 641.0,562.0 C644.7,558.0 648.2,552.6 651.5,548.9 C654.8,545.2 657.9,542.0 660.7,539.7 C663.6,537.4 666.0,536.1 668.6,535.1 C671.2,534.1 674.2,533.8 676.5,533.8 C678.8,533.8 681.5,534.9 682.5,535.1" stroke="#dc2a2a" stroke-width="1.9" stroke-dasharray="1.6,3.9" stroke-linecap="round"/>
<path d="M424.0,609.1 C425.6,608.7 430.4,607.5 433.7,606.9 C437.0,606.3 439.8,605.1 443.9,605.4 C448.0,605.6 453.6,606.4 458.5,608.4 C463.4,610.4 468.2,614.4 473.1,617.1 C478.0,619.8 482.8,622.2 487.7,624.4 C492.6,626.6 497.1,628.8 502.3,630.3 C507.5,631.8 514.3,632.5 518.8,633.2 C523.2,633.9 525.6,633.4 529.0,634.6 C532.4,635.8 536.3,637.3 539.2,640.5 C542.1,643.7 544.3,649.7 546.5,653.6 C548.7,657.5 550.4,659.7 552.3,663.8 C554.2,667.9 557.0,675.6 558.0,678.0" stroke="#dc2a2a" stroke-width="1.9" stroke-dasharray="1.6,3.9" stroke-linecap="round"/>
<path d="M455.0,641.0 C457.4,639.6 463.8,635.3 469.4,632.6 C475.0,629.9 482.1,626.7 488.4,625.0 C494.7,623.3 502.3,622.7 507.4,622.2 C512.5,621.7 515.4,621.8 518.8,622.2 C522.1,622.6 524.6,623.3 527.5,624.4 C530.4,625.5 533.1,626.1 536.3,628.8 C539.5,631.5 543.6,636.1 546.5,640.5 C549.4,644.9 551.6,650.7 553.8,655.1 C556.0,659.5 557.9,663.0 559.6,666.8 C561.3,670.6 563.3,676.1 564.0,678.0" stroke="#dc2a2a" stroke-width="1.9" stroke-dasharray="1.6,3.9" stroke-linecap="round"/>
<path d="M424.0,627.3 C426.1,627.9 432.1,628.8 436.6,631.0 C441.1,633.2 446.3,637.2 451.2,640.5 C456.1,643.8 460.9,647.8 465.8,650.7 C470.7,653.6 475.5,655.8 480.4,658.0 C485.3,660.2 490.1,662.3 495.0,663.8 C499.9,665.3 505.6,666.2 509.6,666.8 C513.6,667.4 515.6,668.2 518.8,667.5 C522.0,666.8 525.1,663.7 529.0,662.4 C532.9,661.1 538.0,659.3 542.1,659.5 C546.2,659.7 550.1,662.1 553.8,663.8 C557.4,665.5 560.7,668.1 564.0,669.7 C567.3,671.3 570.3,673.3 573.5,673.3 C576.7,673.3 579.5,672.0 583.0,669.7 C586.5,667.4 590.9,663.4 594.7,659.5 C598.5,655.6 602.0,649.9 605.9,646.1 C609.8,642.3 614.2,639.0 618.1,636.6 C622.0,634.2 624.0,633.1 629.0,632.0 C634.0,630.9 641.9,630.7 648.3,629.7 C654.7,628.7 661.9,627.0 667.6,626.0 C673.3,625.0 680.0,624.3 682.5,624.0" stroke="#dc2a2a" stroke-width="1.9" stroke-dasharray="1.6,3.9" stroke-linecap="round"/>
<path d="M424.0,636.1 C426.7,637.1 434.8,639.7 440.0,642.0 C445.2,644.3 450.0,647.3 455.0,650.0 C460.0,652.7 465.0,655.5 470.0,658.0 C475.0,660.5 480.0,663.0 485.0,665.0 C490.0,667.0 494.4,668.2 500.0,670.0 C505.6,671.8 515.3,674.6 518.4,675.5" stroke="#dc2a2a" stroke-width="1.9" stroke-dasharray="1.6,3.9" stroke-linecap="round"/>
<path d="M445.0,660.0 C447.5,658.6 454.4,654.6 460.0,651.6 C465.6,648.6 472.6,644.6 478.9,642.1 C485.2,639.6 491.2,637.8 497.9,636.4 C504.5,635.0 513.6,634.8 518.8,633.6 C524.0,632.5 525.6,631.0 529.0,629.5 C532.4,628.0 535.1,626.7 539.2,624.4 C543.3,622.1 548.1,618.0 553.8,615.7 C559.5,613.4 567.4,610.8 573.5,610.5 C579.6,610.2 584.9,612.1 590.3,614.2 C595.7,616.3 601.7,621.1 605.9,623.0 C610.1,624.9 612.2,625.9 615.4,625.7 C618.6,625.5 621.5,623.6 624.9,621.6 C628.3,619.6 631.6,615.9 635.7,613.5 C639.8,611.1 645.2,608.8 649.3,607.4 C653.4,606.0 656.5,605.5 660.1,605.4 C663.7,605.3 667.3,606.0 671.0,606.7 C674.7,607.4 680.6,609.0 682.5,609.4" stroke="#dc2a2a" stroke-width="1.9" stroke-dasharray="1.6,3.9" stroke-linecap="round"/>
<path d="M510.0,631.7 C511.5,632.0 515.1,633.2 518.8,633.2 C522.4,633.2 527.3,632.2 531.9,631.7 C536.5,631.2 539.6,630.8 546.5,630.3 C553.4,629.8 566.0,628.7 573.5,628.8 C581.0,628.9 585.7,630.0 591.8,631.0 C597.9,632.0 605.0,633.2 610.0,634.6 C615.0,636.0 617.8,637.2 622.1,639.3 C626.4,641.4 632.3,645.6 635.7,647.4 C639.1,649.2 639.1,650.5 642.5,650.1 C645.9,649.7 651.6,647.2 656.1,644.7 C660.6,642.2 665.2,638.1 669.6,635.2 C674.0,632.3 680.4,628.5 682.5,627.1" stroke="#dc2a2a" stroke-width="1.9" stroke-dasharray="1.6,3.9" stroke-linecap="round"/>
<path d="M590.3,678.0 C591.6,676.3 595.5,670.7 598.0,668.0 C600.5,665.3 601.4,663.6 605.0,662.0 C608.6,660.4 613.8,658.5 619.4,658.6 C625.0,658.7 632.3,661.1 638.7,662.4 C645.1,663.7 652.8,665.4 658.0,666.3 C663.2,667.2 668.0,667.7 670.0,668.0" stroke="#dc2a2a" stroke-width="1.9" stroke-dasharray="1.6,3.9" stroke-linecap="round"/>
<path d="M424.0,645.0 C425.3,646.7 429.3,651.2 432.0,655.0 C434.7,658.8 437.7,664.2 440.0,668.0 C442.3,671.8 445.0,676.3 446.0,678.0" stroke="#dc2a2a" stroke-width="1.9" stroke-dasharray="1.6,3.9" stroke-linecap="round"/>
<path d="M424.0,655.0 C425.0,656.7 428.2,661.2 430.0,665.0 C431.8,668.8 434.2,675.8 435.0,678.0" stroke="#dc2a2a" stroke-width="1.9" stroke-dasharray="1.6,3.9" stroke-linecap="round"/>
<path d="M424.0,662.0 C426.7,663.0 434.8,665.3 440.0,668.0 C445.2,670.7 452.5,676.3 455.0,678.0" stroke="#dc2a2a" stroke-width="1.9" stroke-dasharray="1.6,3.9" stroke-linecap="round"/>
<path d="M424.0,672.0 L430.0,678.0" stroke="#dc2a2a" stroke-width="1.9" stroke-dasharray="1.6,3.9" stroke-linecap="round"/>
<path d="M640.0,678.0 C641.7,675.8 646.7,668.8 650.0,665.0 C653.3,661.2 656.3,657.8 660.0,655.0 C663.7,652.2 668.2,649.7 672.0,648.0 C675.8,646.3 680.8,645.5 682.5,645.0" stroke="#dc2a2a" stroke-width="1.9" stroke-dasharray="1.6,3.9" stroke-linecap="round"/>
<path d="M655.0,678.0 C656.2,675.8 659.2,668.8 662.0,665.0 C664.8,661.2 668.6,657.5 672.0,655.0 C675.4,652.5 680.8,650.8 682.5,650.0" stroke="#dc2a2a" stroke-width="1.9" stroke-dasharray="1.6,3.9" stroke-linecap="round"/>
<path d="M660.0,678.0 C661.3,676.3 665.3,670.7 668.0,668.0 C670.7,665.3 673.6,663.3 676.0,662.0 C678.4,660.7 681.4,660.3 682.5,660.0" stroke="#dc2a2a" stroke-width="1.9" stroke-dasharray="1.6,3.9" stroke-linecap="round"/>
<path d="M424.0,438.2 C426.1,437.1 432.4,434.1 436.6,431.7 C440.8,429.3 445.8,426.6 449.0,424.0 C452.2,421.4 453.7,418.7 456.0,416.0 C458.3,413.3 460.9,409.9 463.0,407.8 C465.1,405.7 467.0,404.2 468.7,403.6 C470.4,403.0 471.2,403.0 473.1,403.9 C475.1,404.8 478.0,406.7 480.4,409.0 C482.8,411.3 485.3,415.0 487.7,417.8 C490.1,420.6 492.3,423.5 495.0,425.8 C497.7,428.1 500.9,430.8 503.8,431.7 C506.7,432.6 510.0,431.4 512.5,431.5 C515.0,431.6 516.8,431.9 518.8,432.4 C520.8,432.9 522.4,433.1 524.6,434.6 C526.8,436.1 529.5,440.9 531.9,441.2 C534.3,441.4 536.0,437.5 539.2,436.1 C542.4,434.8 547.0,434.3 550.9,433.1 C554.8,431.9 558.8,430.0 562.6,428.8 C566.4,427.6 569.6,425.8 573.5,425.8 C577.4,425.8 581.9,427.8 585.9,428.8 C589.9,429.8 593.6,431.2 597.6,431.7 C601.6,432.2 607.9,431.7 610.0,431.7" stroke="#222" stroke-width="1.8"/>
<path d="M424.0,433.0 C425.8,432.7 431.2,432.5 435.0,431.0 C438.8,429.5 443.2,426.7 446.5,424.0 C449.8,421.3 452.4,417.8 455.0,415.0 C457.6,412.2 459.9,409.2 461.8,407.0 C463.7,404.8 464.4,402.9 466.5,401.5 C468.6,400.1 471.1,399.1 474.6,398.8 C478.1,398.5 483.1,398.9 487.7,399.5 C492.3,400.1 498.2,401.6 502.3,402.5 C506.4,403.4 509.8,404.3 512.5,404.7 C515.2,405.1 516.3,404.3 518.8,404.7 C521.3,405.1 524.1,406.1 527.5,406.8 C530.9,407.5 536.3,408.8 539.2,409.0 C542.1,409.2 543.0,410.0 545.0,408.3 C547.0,406.6 548.7,401.4 550.9,398.8 C553.1,396.2 555.8,394.2 558.2,393.0 C560.6,391.8 563.0,391.8 565.5,391.5 C568.0,391.2 570.6,392.0 573.5,391.5 C576.4,391.0 580.0,390.1 583.0,388.6 C586.0,387.2 588.9,384.8 591.8,382.8 C594.7,380.9 598.8,378.2 600.5,376.9 C602.2,375.6 601.8,375.3 602.0,375.0" stroke="#222" stroke-width="1.8"/>
<path d="M424.0,433.0 C425.6,432.8 430.5,433.2 433.7,431.7 C436.9,430.2 440.1,426.7 443.0,424.0 C445.9,421.3 448.4,418.4 451.0,415.5 C453.6,412.6 455.3,410.2 458.5,406.5 C461.7,402.8 466.6,396.9 470.2,393.0 C473.8,389.1 477.7,385.5 480.4,382.8 C483.1,380.1 484.9,378.2 486.2,376.9 C487.5,375.6 487.7,375.3 488.0,375.0" stroke="#222" stroke-width="1.8"/>
<path d="M470.0,374.0 C470.3,374.4 469.9,375.0 471.6,376.2 C473.3,377.4 477.5,379.5 480.4,381.3 C483.3,383.1 486.3,385.2 489.2,387.1 C492.1,389.1 495.0,390.8 497.9,393.0 C500.8,395.2 503.8,398.4 506.7,400.3 C509.6,402.2 513.4,403.9 515.4,404.7 C517.4,405.5 518.2,404.9 518.8,405.0" stroke="#222" stroke-width="1.8"/>
<path d="M473.0,374.0 C473.5,374.5 474.8,375.9 476.0,377.0 C477.2,378.1 479.1,380.3 480.4,380.6 C481.7,380.9 483.0,379.8 484.0,379.0 C485.0,378.2 485.8,376.8 486.5,376.0 C487.2,375.2 487.8,374.3 488.0,374.0" stroke="#222" stroke-width="1.8"/>
<path d="M424.0,409.0 C425.1,408.5 428.9,407.2 430.8,406.1 C432.7,405.0 434.4,403.1 435.1,402.5" stroke="#222" stroke-width="1.8"/>
<path d="M510.0,403.2 C511.5,403.4 516.4,404.6 518.8,404.7 C521.2,404.8 522.7,405.1 524.6,403.9 C526.5,402.7 528.5,400.2 530.4,397.4 C532.3,394.6 534.6,390.6 536.3,387.1 C538.0,383.6 539.8,378.4 540.7,376.2 C541.6,374.0 541.4,374.4 541.5,374.0" stroke="#222" stroke-width="1.8"/>
<path d="M545.0,409.0 C546.0,408.0 548.2,404.8 550.9,403.2 C553.6,401.6 557.3,400.4 561.1,399.5 C564.9,398.6 569.4,398.7 573.5,398.1 C577.6,397.5 581.4,396.9 585.9,395.9 C590.4,394.9 598.1,392.8 600.5,392.2" stroke="#222" stroke-width="1.8"/>
<path d="M424.0,438.2 C426.1,438.2 432.1,437.9 436.6,438.2 C441.1,438.4 446.3,439.2 451.2,439.7 C456.1,440.2 460.9,441.2 465.8,441.2 C470.7,441.2 476.0,440.4 480.4,439.7 C484.8,439.0 488.2,438.0 492.1,436.8 C496.0,435.6 500.4,433.4 503.8,432.4 C507.2,431.4 510.0,431.1 512.5,430.9 C515.0,430.7 516.0,431.2 518.8,431.0 C521.5,430.8 526.1,430.4 529.0,429.5 C531.9,428.6 534.3,427.4 536.3,425.8 C538.2,424.2 539.2,422.1 540.7,420.0 C542.2,417.9 543.5,416.2 545.0,413.4 C546.5,410.6 548.7,404.9 549.4,403.2" stroke="#222" stroke-width="1.8"/>
<path d="M539.2,434.0 C540.2,432.3 543.0,425.6 545.0,423.6 C547.0,421.6 548.2,422.4 550.9,422.2 C553.6,422.0 557.3,422.1 561.1,422.2 C564.9,422.3 569.4,422.5 573.5,422.9 C577.6,423.3 581.9,423.7 585.9,424.4 C589.9,425.1 593.9,426.4 597.6,427.3 C601.3,428.2 604.2,428.5 608.1,429.9 C612.0,431.3 616.9,433.5 621.3,435.8 C625.7,438.1 630.0,441.1 634.4,443.7 C638.8,446.3 643.2,448.7 647.6,451.5 C652.0,454.3 656.8,457.8 660.7,460.7 C664.6,463.6 667.6,466.4 671.2,468.6 C674.8,470.8 680.6,473.0 682.5,473.9" stroke="#222" stroke-width="1.8"/>
<path d="M553.8,432.4 C555.8,431.5 562.2,428.4 565.5,427.3 C568.8,426.2 570.6,425.8 573.5,425.8 C576.4,425.8 579.5,426.6 583.0,427.3 C586.5,428.0 590.5,429.3 594.7,430.2 C598.9,431.1 603.7,431.8 608.1,432.5 C612.5,433.2 616.9,433.4 621.3,434.5 C625.7,435.6 630.0,438.0 634.4,439.1 C638.8,440.2 643.2,440.9 647.6,441.0 C652.0,441.1 656.3,440.1 660.7,439.7 C665.1,439.3 670.2,438.7 673.8,438.4 C677.4,438.1 681.0,437.8 682.5,437.7" stroke="#222" stroke-width="1.8"/>
<path d="M424.0,468.2 C425.6,468.6 430.1,469.7 433.7,470.4 C437.3,471.1 441.3,472.7 445.4,472.6 C449.5,472.5 453.9,470.8 458.5,469.6 C463.1,468.4 468.2,466.6 473.1,465.3 C478.0,464.0 482.8,462.7 487.7,461.6 C492.6,460.5 498.2,459.3 502.3,458.7 C506.4,458.1 509.8,458.0 512.5,458.0 C515.2,458.0 516.8,458.9 518.8,458.7 C520.8,458.4 522.3,458.0 524.6,456.5 C526.9,455.0 530.0,450.2 532.6,449.9 C535.2,449.6 537.1,451.7 540.0,454.6 C542.9,457.5 546.8,463.2 550.2,467.4 C553.6,471.6 557.3,476.6 560.4,479.6 C563.5,482.6 566.4,484.0 568.6,485.2 C570.8,486.4 571.7,487.0 573.7,486.8 C575.8,486.6 578.4,485.9 580.9,484.2 C583.4,482.5 586.3,479.2 589.0,476.6 C591.7,474.0 594.5,470.6 597.2,468.4 C599.9,466.2 602.9,464.4 605.4,463.3 C607.9,462.2 609.4,462.3 612.0,462.0 C614.6,461.7 617.6,461.2 621.3,461.4 C625.0,461.6 630.0,462.2 634.4,463.4 C638.8,464.6 643.2,467.1 647.6,468.6 C652.0,470.1 656.3,472.4 660.7,472.6 C665.1,472.8 670.2,470.7 673.8,469.9 C677.4,469.1 681.0,468.3 682.5,468.0" stroke="#222" stroke-width="1.8"/>
<path d="M424.0,474.7 C425.1,474.1 428.2,472.9 430.8,471.1 C433.4,469.3 436.1,466.1 439.5,463.8 C442.9,461.5 446.8,459.1 451.2,457.2 C455.6,455.2 460.9,453.3 465.8,452.1 C470.7,450.9 475.5,450.0 480.4,449.9 C485.3,449.8 490.6,450.8 495.0,451.4 C499.4,452.0 502.7,452.9 506.7,453.3 C510.7,453.7 515.8,454.2 518.8,453.9 C521.8,453.6 522.7,452.8 524.6,451.4 C526.5,450.0 528.5,447.8 530.4,445.5 C532.3,443.2 534.3,440.3 536.3,437.5 C538.2,434.7 540.1,431.1 542.1,428.8 C544.1,426.5 547.0,424.4 548.0,423.5" stroke="#222" stroke-width="1.8"/>
<path d="M635.7,400.3 C637.2,402.3 641.8,408.4 644.9,412.1 C648.0,415.8 651.0,419.5 654.1,422.6 C657.2,425.7 660.3,428.6 663.3,430.5 C666.3,432.4 668.8,433.4 672.0,434.0 C675.2,434.6 680.8,434.0 682.5,434.0" stroke="#222" stroke-width="1.8"/>
<path d="M641.0,400.3 C642.5,402.3 647.1,408.4 650.2,412.1 C653.3,415.8 656.3,419.3 659.4,422.6 C662.5,425.9 665.8,429.7 668.6,431.8 C671.4,433.9 673.7,434.4 676.0,435.0 C678.3,435.6 681.4,435.4 682.5,435.5" stroke="#222" stroke-width="1.8"/>
<path d="M645.6,400.3 C647.0,402.1 651.2,407.3 654.1,410.8 C657.0,414.3 660.2,418.0 663.3,421.3 C666.4,424.6 669.3,427.9 672.5,430.5 C675.7,433.1 680.8,435.9 682.5,437.0" stroke="#222" stroke-width="1.8"/>
<path d="M671.2,400.3 C672.1,401.2 674.6,404.0 676.5,405.5 C678.4,407.0 681.5,408.8 682.5,409.5" stroke="#222" stroke-width="1.8"/>
<path d="M424.0,534.6 C425.1,534.4 428.2,533.6 430.8,533.1 C433.4,532.6 436.8,531.6 439.5,531.7 C442.2,531.8 444.1,532.2 446.8,533.9 C449.5,535.6 452.4,538.6 455.6,541.9 C458.8,545.2 462.2,550.0 465.8,553.6 C469.4,557.2 473.9,561.4 477.5,563.8 C481.1,566.2 483.6,567.1 487.7,567.9 C491.8,568.7 497.1,568.5 502.3,568.5 C507.5,568.5 513.9,568.5 518.8,568.2 C523.7,567.9 527.3,568.2 531.9,566.7 C536.5,565.2 541.6,562.0 546.5,559.4 C551.4,556.8 556.6,553.3 561.1,551.4 C565.6,549.5 569.4,547.7 573.5,547.7 C577.6,547.7 581.9,549.5 585.9,551.4 C589.9,553.3 594.3,557.2 597.6,559.4 C600.9,561.6 602.2,563.3 605.5,564.7 C608.8,566.1 613.6,568.0 617.3,568.0 C621.0,568.0 624.2,567.0 627.9,564.7 C631.6,562.4 635.8,558.2 639.7,554.2 C643.6,550.2 648.0,544.4 651.5,541.0 C655.0,537.6 658.1,535.3 660.7,533.8 C663.3,532.3 664.7,531.9 667.3,531.8 C669.9,531.7 674.0,532.8 676.5,533.1 C679.0,533.4 681.5,533.7 682.5,533.8" stroke="#222" stroke-width="1.8"/>
<path d="M424.0,593.7 C425.6,593.3 430.4,592.2 433.7,591.5 C437.0,590.8 440.5,589.4 443.9,589.3 C447.3,589.2 450.5,589.8 454.1,590.8 C457.8,591.8 462.4,593.7 465.8,595.2 C469.2,596.7 471.0,598.3 474.6,600.0 C478.2,601.7 483.1,603.8 487.7,605.4 C492.3,607.0 497.1,608.7 502.3,609.8 C507.5,610.9 513.9,611.4 518.8,612.0 C523.7,612.6 528.5,612.2 531.9,613.5 C535.3,614.8 536.8,617.2 539.2,620.0 C541.6,622.8 544.1,626.4 546.5,630.3 C548.9,634.2 551.4,639.3 553.8,643.4 C556.2,647.5 558.7,651.7 561.1,655.1 C563.5,658.5 566.3,661.8 568.4,663.8 C570.5,665.8 571.5,666.5 573.5,666.8 C575.5,667.0 577.3,667.2 580.1,665.3 C582.9,663.3 586.9,658.3 590.3,655.1 C593.7,651.9 597.2,649.0 600.5,646.3 C603.8,643.6 607.3,640.5 610.0,639.0 C612.7,637.5 613.8,637.4 616.7,637.2 C619.6,637.0 624.0,637.1 627.6,637.9 C631.2,638.7 634.8,641.1 638.4,642.0 C642.0,642.9 645.7,643.2 649.3,643.3 C652.9,643.4 656.3,643.1 660.1,642.7 C663.9,642.3 668.3,641.4 672.0,641.0 C675.7,640.6 680.8,640.7 682.5,640.6" stroke="#222" stroke-width="1.8"/>
<path d="M546.5,600.0 C548.9,599.0 556.6,595.1 561.1,593.7 C565.6,592.3 569.4,591.5 573.5,591.5 C577.6,591.5 582.3,592.8 585.9,593.7 C589.5,594.7 591.7,595.7 595.0,597.2 C598.3,598.7 602.5,601.1 605.9,602.6 C609.3,604.1 612.2,606.0 615.4,606.0 C618.6,606.0 621.5,604.3 624.9,602.6 C628.3,600.9 631.6,597.8 635.7,595.9 C639.8,594.0 644.8,592.1 649.3,591.1 C653.8,590.1 658.7,589.7 662.8,589.7 C666.9,589.7 670.4,590.4 673.7,591.1 C677.0,591.8 681.0,593.3 682.5,593.8" stroke="#222" stroke-width="1.8"/>
<path d="M595.0,596.2 C595.9,596.8 597.8,598.6 600.3,600.0 C602.8,601.4 608.4,603.9 610.0,604.7" stroke="#222" stroke-width="1.8"/>
<path d="M627.9,600.0 C630.1,598.9 636.0,595.4 641.0,593.6 C646.0,591.8 653.1,589.5 658.1,589.0 C663.1,588.5 667.1,589.5 671.2,590.3 C675.3,591.1 680.6,593.0 682.5,593.6" stroke="#222" stroke-width="1.8"/>
<path d="M424.0,610.5 C426.1,611.0 432.1,611.9 436.6,613.5 C441.1,615.1 446.3,617.0 451.2,620.0 C456.1,623.0 460.9,628.3 465.8,631.7 C470.7,635.1 475.5,638.2 480.4,640.5 C485.3,642.8 490.1,644.4 495.0,645.6 C499.9,646.8 505.6,647.3 509.6,647.8 C513.6,648.3 515.8,649.0 518.8,648.5 C521.8,648.0 524.1,646.4 527.5,644.9 C530.9,643.4 535.3,640.4 539.2,639.7 C543.1,639.0 547.2,639.6 550.9,640.5 C554.5,641.4 557.3,643.4 561.1,644.9 C564.9,646.4 569.9,649.2 573.5,649.2 C577.1,649.2 579.5,647.6 583.0,644.9 C586.5,642.2 590.9,636.9 594.7,633.2 C598.5,629.6 602.2,625.8 605.9,623.0 C609.6,620.2 613.5,617.0 616.7,616.2 C619.9,615.4 621.7,616.6 624.9,618.2 C628.1,619.8 632.1,623.2 635.7,625.7 C639.3,628.2 643.7,632.1 646.6,633.2 C649.5,634.3 650.6,633.8 653.3,632.5 C656.0,631.2 659.6,627.7 662.8,625.7 C666.0,623.7 669.0,621.4 672.3,620.3 C675.6,619.2 680.8,619.1 682.5,618.9" stroke="#222" stroke-width="1.8"/>
<path d="M424.0,610.5 C426.1,611.6 432.1,614.4 436.6,617.0 C441.1,619.6 446.3,623.0 451.2,625.9 C456.1,628.8 460.9,631.7 465.8,634.6 C470.7,637.5 475.5,640.7 480.4,643.4 C485.3,646.1 490.1,648.8 495.0,650.7 C499.9,652.7 505.6,654.1 509.6,655.1 C513.6,656.1 516.3,655.8 518.8,656.5 C521.3,657.2 522.4,657.5 524.6,659.5 C526.8,661.5 529.5,665.1 531.9,668.2 C534.3,671.3 538.0,676.4 539.2,678.0" stroke="#222" stroke-width="1.8"/>
<path d="M424.0,619.3 C425.6,619.4 429.6,618.9 433.7,620.0 C437.8,621.1 443.9,624.1 448.3,625.9 C452.7,627.7 456.4,629.3 460.0,631.0 C463.6,632.7 466.6,634.4 470.0,636.0 C473.4,637.6 478.7,639.8 480.4,640.5" stroke="#222" stroke-width="1.8"/>
<path d="M424.0,646.0 C425.5,646.0 429.7,646.2 433.0,646.0 C436.3,645.8 439.6,646.1 443.9,644.9 C448.1,643.7 454.1,641.2 458.5,639.0 C462.9,636.8 466.1,634.6 470.2,631.7 C474.3,628.8 479.2,624.4 483.3,621.5 C487.4,618.6 491.1,616.3 495.0,614.2 C498.9,612.1 502.7,610.8 506.7,609.1 C510.7,607.4 515.3,604.4 518.8,604.0 C522.3,603.6 525.1,606.0 527.5,606.9 C529.9,607.8 530.2,610.1 533.4,609.1 C536.6,608.1 541.9,603.7 546.5,601.1 C551.1,598.5 556.6,595.4 561.1,593.8 C565.6,592.2 569.4,591.6 573.5,591.6 C577.6,591.6 581.9,592.6 585.9,593.8 C589.9,595.0 593.6,597.1 597.6,598.9 C601.6,600.7 607.9,603.7 610.0,604.7" stroke="#222" stroke-width="1.8"/>
<path d="M424.0,651.4 C427.3,650.8 438.1,649.4 443.9,647.8 C449.6,646.2 453.6,645.1 458.5,641.9 C463.4,638.7 468.2,632.7 473.1,628.8 C478.0,624.9 482.8,621.4 487.7,618.6 C492.6,615.8 497.1,613.2 502.3,612.0 C507.5,610.8 514.3,611.9 518.8,611.5 C523.2,611.1 525.6,610.1 529.0,609.8 C532.4,609.5 535.1,610.0 539.2,609.8 C543.3,609.6 548.1,608.8 553.8,608.4 C559.5,608.0 567.4,607.1 573.5,607.2 C579.6,607.3 584.4,608.2 590.3,609.1 C596.1,610.0 603.3,611.5 608.6,612.8 C613.9,614.1 617.6,615.5 622.1,616.9 C626.6,618.3 631.2,620.0 635.7,621.0 C640.2,622.0 645.9,622.9 649.3,623.0 C652.7,623.1 653.4,622.7 656.1,621.6 C658.8,620.5 662.2,617.8 665.6,616.2 C669.0,614.6 673.6,613.0 676.4,612.1 C679.2,611.2 681.5,611.0 682.5,610.8" stroke="#222" stroke-width="1.8"/>
<path d="M424.0,619.3 C425.6,620.6 430.9,624.0 433.7,627.3 C436.5,630.6 438.8,634.4 441.0,639.0 C443.2,643.6 445.1,650.5 446.8,655.1 C448.5,659.7 450.0,663.0 451.2,666.8 C452.4,670.6 453.6,676.1 454.1,678.0" stroke="#222" stroke-width="1.8"/>
<path d="M424.0,627.3 C426.1,628.3 432.1,630.5 436.6,633.2 C441.1,635.9 446.3,640.0 451.2,643.4 C456.1,646.8 460.9,650.2 465.8,653.6 C470.7,657.0 475.5,660.6 480.4,663.8 C485.3,667.0 491.4,670.2 495.0,672.6 C498.6,675.0 501.1,677.1 502.3,678.0" stroke="#222" stroke-width="1.8"/>
<path d="M424.0,667.5 C425.6,667.6 430.9,667.1 433.7,668.2 C436.5,669.3 439.3,672.4 441.0,674.0 C442.7,675.6 443.4,677.3 443.9,678.0" stroke="#222" stroke-width="1.8"/>
<path d="M424.0,667.7 C426.6,667.1 435.0,666.0 439.5,664.2 C444.0,662.5 447.3,659.1 451.2,657.2 C455.1,655.4 459.8,653.6 462.9,653.1 C466.0,652.6 467.1,652.7 470.0,654.0 C472.9,655.3 476.7,658.4 480.4,660.7 C484.1,663.0 488.4,665.9 492.0,668.0 C495.6,670.1 497.5,672.1 502.0,673.5 C506.5,674.9 516.0,676.0 518.8,676.5" stroke="#222" stroke-width="1.8"/>
<path d="M549.4,678.0 C551.1,677.1 556.4,674.4 559.6,672.6 C562.8,670.9 565.5,668.5 568.4,667.5 C571.3,666.5 574.8,666.4 577.2,666.8 C579.6,667.2 580.8,667.8 583.0,669.7 C585.2,671.6 589.1,676.6 590.3,678.0" stroke="#222" stroke-width="1.8"/>
<path d="M616.7,678.0 C618.7,674.9 625.0,665.4 628.9,659.6 C632.8,653.8 636.4,648.0 639.8,643.3 C643.2,638.5 646.6,634.5 649.3,631.1 C652.0,627.7 653.4,625.5 656.1,623.0 C658.8,620.5 662.2,618.1 665.6,616.2 C669.0,614.3 673.6,612.4 676.4,611.5 C679.2,610.6 681.5,610.9 682.5,610.8" stroke="#222" stroke-width="1.8"/>
<path d="M628.9,678.0 C630.0,675.9 633.0,669.1 635.7,665.1 C638.4,661.1 642.3,656.9 645.2,654.2 C648.1,651.5 650.4,649.7 653.3,648.8 C656.2,647.9 659.6,648.6 662.8,648.8 C666.0,649.0 669.0,649.6 672.3,650.1 C675.6,650.6 680.8,651.3 682.5,651.5" stroke="#222" stroke-width="1.8"/>
<path d="M633.0,678.0 C634.6,675.4 639.3,667.2 642.5,662.3 C645.7,657.4 649.1,652.6 652.0,648.8 C654.9,645.0 657.2,642.5 660.1,639.3 C663.0,636.1 665.9,633.2 669.6,629.8 C673.3,626.4 680.4,620.7 682.5,618.9" stroke="#222" stroke-width="1.8"/>
<path d="M652.0,678.0 C653.1,675.6 656.5,668.1 658.8,663.7 C661.1,659.3 663.1,655.1 665.6,651.5 C668.1,647.9 670.9,643.8 673.7,642.0 C676.5,640.2 681.0,640.8 682.5,640.6" stroke="#222" stroke-width="1.8"/>
<path d="M654.0,678.0 C655.2,675.8 658.7,669.0 661.0,665.0 C663.3,661.0 665.5,657.2 668.0,654.0 C670.5,650.8 673.6,647.7 676.0,646.0 C678.4,644.3 681.4,644.3 682.5,644.0" stroke="#222" stroke-width="1.8"/>
<path d="M665.0,678.0 C666.0,677.0 669.1,673.3 671.0,671.8 C672.9,670.3 674.5,669.9 676.4,669.1 C678.3,668.3 681.5,667.4 682.5,667.1" stroke="#222" stroke-width="1.8"/>
<path d="M595.0,673.2 L603.0,678.0" stroke="#222" stroke-width="1.8"/>
</g>
<g stroke="#2a2a55" stroke-width="1.3"><line x1="424.1" y1="376.3" x2="431.1" y2="376.3"/><line x1="682.5" y1="376.3" x2="675.5" y2="376.3"/><line x1="424.1" y1="451.7" x2="431.1" y2="451.7"/><line x1="682.5" y1="451.7" x2="675.5" y2="451.7"/><line x1="424.1" y1="527.0" x2="431.1" y2="527.0"/><line x1="682.5" y1="527.0" x2="675.5" y2="527.0"/><line x1="424.1" y1="602.4" x2="431.1" y2="602.4"/><line x1="682.5" y1="602.4" x2="675.5" y2="602.4"/><line x1="424.1" y1="677.8" x2="431.1" y2="677.8"/><line x1="682.5" y1="677.8" x2="675.5" y2="677.8"/><line x1="424.1" y1="414.0" x2="428.1" y2="414.0"/><line x1="682.5" y1="414.0" x2="678.5" y2="414.0"/><line x1="424.1" y1="489.4" x2="428.1" y2="489.4"/><line x1="682.5" y1="489.4" x2="678.5" y2="489.4"/><line x1="424.1" y1="564.7" x2="428.1" y2="564.7"/><line x1="682.5" y1="564.7" x2="678.5" y2="564.7"/><line x1="424.1" y1="640.1" x2="428.1" y2="640.1"/><line x1="682.5" y1="640.1" x2="678.5" y2="640.1"/></g>
<line x1="424.1" y1="376.3" x2="682.5" y2="376.3" stroke="#222" stroke-width="1.9"/>
<line x1="424.1" y1="677.8" x2="682.5" y2="677.8" stroke="#222" stroke-width="1.9"/>
<line x1="424.1" y1="376.3" x2="424.1" y2="677.8" stroke="#3a3a6a" stroke-width="1.9"/>
<line x1="682.5" y1="376.3" x2="682.5" y2="677.8" stroke="#3a3a6a" stroke-width="1.9"/>
<text x="417.3" y="381.9" text-anchor="end" class="yl">5.0</text>
<text x="417.3" y="457.3" text-anchor="end" class="yl">2.5</text>
<text x="417.3" y="532.6" text-anchor="end" class="yl">0.0</text>
<text x="417.3" y="608.0" text-anchor="end" class="yl">-2.5</text>
<text x="417.3" y="683.4" text-anchor="end" class="yl">-5.0</text>
<text x="424.4" y="699.3" text-anchor="start" class="xl">Γ</text>
<text x="517.0" y="699.3" text-anchor="middle" class="xl">M</text>
<text x="574.7" y="699.3" text-anchor="middle" class="xl">K</text>
<text x="682.8" y="699.3" text-anchor="end" class="xl">Γ</text>
<line x1="424.6" y1="367.0" x2="462.6" y2="367.0" stroke="#222" stroke-width="1.9"/>
<text x="466.40000000000003" y="372.5" class="lg">PBE</text>
<line x1="602.5" y1="367.0" x2="640.5" y2="367.0" stroke="#e0282a" stroke-width="1.9" stroke-dasharray="3.5,2"/>
<text x="676.9" y="372.5" text-anchor="end" class="lg">HSE</text>
<rect x="601" y="377.3" width="80.5" height="22.5" fill="#fff"/>
<rect x="425.6" y="380.3" width="22.5" height="20" fill="#fff"/>
<text x="428.40000000000003" y="395.6" class="pl">(d)</text>
<text x="677.3" y="395.7" text-anchor="end" class="nm">WGe<tspan class="sm">2</tspan>N<tspan class="sm">4</tspan></text>
<text transform="translate(18.6,231) rotate(-90)" class="yt">Energy (eV)</text>
<text transform="translate(376.2,230.5) rotate(-90)" class="yt">Energy (eV)</text>
<text transform="translate(18.2,590.5) rotate(-90)" class="yt">Energy (eV)</text>
<text transform="translate(376.6,583.5) rotate(-90)" class="yt">Energy (eV)</text>
</svg>
</body></html>
